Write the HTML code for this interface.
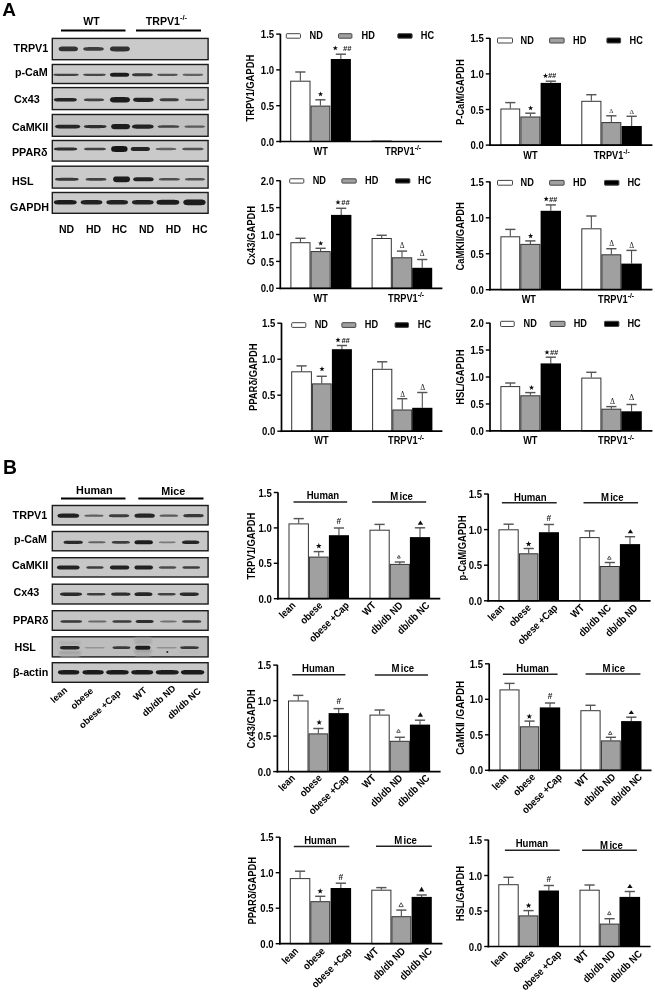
<!DOCTYPE html>
<html><head><meta charset="utf-8"><style>
html,body{margin:0;padding:0;background:#fff;}
svg{display:block;}
text{font-family:"Liberation Sans", sans-serif;}
</style></head><body>
<svg width="655" height="992" viewBox="0 0 655 992">
<defs><filter id="bl" x="-20%" y="-100%" width="140%" height="300%"><feGaussianBlur stdDeviation="0.75"/></filter><filter id="bl2" x="-20%" y="-100%" width="140%" height="300%"><feGaussianBlur stdDeviation="1.1"/></filter><filter id="gb" x="0" y="0" width="100%" height="100%" filterUnits="userSpaceOnUse"><feGaussianBlur stdDeviation="0.45"/></filter></defs>
<rect x="0" y="0" width="655" height="992" fill="#fff"/>
<g filter="url(#gb)">
<text x="2.20" y="15.70" font-size="19.0" text-anchor="start" font-weight="bold" fill="#000" >A</text>
<text x="83.30" y="24.50" font-size="10.5" text-anchor="start" font-weight="bold" fill="#000" >WT</text>
<text x="145.80" y="24.50" font-size="10.6" text-anchor="start" font-weight="bold" fill="#000" >TRPV1<tspan font-size="7.6" dy="-4.4">-/-</tspan></text>
<line x1="61.00" y1="30.50" x2="125.50" y2="30.50" stroke="#000" stroke-width="1.8"/>
<line x1="136.00" y1="30.50" x2="201.00" y2="30.50" stroke="#000" stroke-width="1.8"/>
<rect x="52.30" y="38.40" width="155.80" height="21.30" fill="#cacaca" stroke="#1a1a1a" stroke-width="1.4" rx="0" />
<text x="13.60" y="51.90" font-size="10.75" text-anchor="start" font-weight="bold" fill="#000" >TRPV1</text>
<path d="M58.50,48.90 L59.32,47.28 L60.13,46.88 L60.95,46.68 L61.77,46.57 L62.58,46.51 L63.40,46.49 L64.22,46.48 L65.03,46.47 L65.85,46.47 L66.67,46.47 L67.48,46.47 L68.30,46.47 L69.12,46.47 L69.93,46.47 L70.75,46.47 L71.57,46.47 L72.38,46.48 L73.20,46.49 L74.02,46.51 L74.83,46.57 L75.65,46.68 L76.47,46.88 L77.28,47.28 L78.10,48.90 L78.10,48.90 L77.28,50.52 L76.47,50.92 L75.65,51.12 L74.83,51.23 L74.02,51.29 L73.20,51.31 L72.38,51.32 L71.57,51.33 L70.75,51.33 L69.93,51.33 L69.12,51.33 L68.30,51.33 L67.48,51.33 L66.67,51.33 L65.85,51.33 L65.03,51.33 L64.22,51.32 L63.40,51.31 L62.58,51.29 L61.77,51.23 L60.95,51.12 L60.13,50.92 L59.32,50.52 L58.50,48.90Z" fill="rgb(51,51,51)" filter="url(#bl)"/>
<path d="M83.00,48.90 L83.88,47.70 L84.75,47.40 L85.62,47.25 L86.50,47.17 L87.38,47.13 L88.25,47.11 L89.12,47.10 L90.00,47.10 L90.88,47.10 L91.75,47.10 L92.62,47.10 L93.50,47.10 L94.38,47.10 L95.25,47.10 L96.12,47.10 L97.00,47.10 L97.88,47.10 L98.75,47.11 L99.62,47.13 L100.50,47.17 L101.38,47.25 L102.25,47.40 L103.12,47.70 L104.00,48.90 L104.00,48.90 L103.12,50.10 L102.25,50.40 L101.38,50.55 L100.50,50.63 L99.62,50.67 L98.75,50.69 L97.88,50.70 L97.00,50.70 L96.12,50.70 L95.25,50.70 L94.38,50.70 L93.50,50.70 L92.62,50.70 L91.75,50.70 L90.88,50.70 L90.00,50.70 L89.12,50.70 L88.25,50.69 L87.38,50.67 L86.50,50.63 L85.62,50.55 L84.75,50.40 L83.88,50.10 L83.00,48.90Z" fill="rgb(62,62,62)" filter="url(#bl)"/>
<path d="M109.80,48.90 L110.64,47.22 L111.48,46.80 L112.33,46.59 L113.17,46.48 L114.01,46.43 L114.85,46.40 L115.69,46.39 L116.53,46.38 L117.38,46.38 L118.22,46.38 L119.06,46.38 L119.90,46.38 L120.74,46.38 L121.58,46.38 L122.42,46.38 L123.27,46.38 L124.11,46.39 L124.95,46.40 L125.79,46.43 L126.63,46.48 L127.47,46.59 L128.32,46.80 L129.16,47.22 L130.00,48.90 L130.00,48.90 L129.16,50.58 L128.32,51.00 L127.47,51.21 L126.63,51.32 L125.79,51.37 L124.95,51.40 L124.11,51.41 L123.27,51.42 L122.42,51.42 L121.58,51.42 L120.74,51.42 L119.90,51.42 L119.06,51.42 L118.22,51.42 L117.38,51.42 L116.53,51.42 L115.69,51.41 L114.85,51.40 L114.01,51.37 L113.17,51.32 L112.33,51.21 L111.48,51.00 L110.64,50.58 L109.80,48.90Z" fill="rgb(51,51,51)" filter="url(#bl)"/>
<rect x="52.30" y="64.50" width="155.80" height="19.00" fill="#cacaca" stroke="#1a1a1a" stroke-width="1.4" rx="0" />
<text x="14.90" y="76.10" font-size="10.75" text-anchor="start" font-weight="bold" fill="#000" >p-CaM</text>
<path d="M53.00,74.80 L54.08,74.02 L55.17,73.83 L56.25,73.73 L57.33,73.68 L58.42,73.65 L59.50,73.64 L60.58,73.63 L61.67,73.63 L62.75,73.63 L63.83,73.63 L64.92,73.63 L66.00,73.63 L67.08,73.63 L68.17,73.63 L69.25,73.63 L70.33,73.63 L71.42,73.63 L72.50,73.64 L73.58,73.65 L74.67,73.68 L75.75,73.73 L76.83,73.83 L77.92,74.02 L79.00,74.80 L79.00,74.80 L77.92,75.58 L76.83,75.77 L75.75,75.87 L74.67,75.92 L73.58,75.95 L72.50,75.96 L71.42,75.97 L70.33,75.97 L69.25,75.97 L68.17,75.97 L67.08,75.97 L66.00,75.97 L64.92,75.97 L63.83,75.97 L62.75,75.97 L61.67,75.97 L60.58,75.97 L59.50,75.96 L58.42,75.95 L57.33,75.92 L56.25,75.87 L55.17,75.77 L54.08,75.58 L53.00,74.80Z" fill="rgb(66,66,66)" filter="url(#bl)"/>
<path d="M83.00,74.80 L83.96,74.02 L84.92,73.83 L85.88,73.73 L86.83,73.68 L87.79,73.65 L88.75,73.64 L89.71,73.63 L90.67,73.63 L91.62,73.63 L92.58,73.63 L93.54,73.63 L94.50,73.63 L95.46,73.63 L96.42,73.63 L97.38,73.63 L98.33,73.63 L99.29,73.63 L100.25,73.64 L101.21,73.65 L102.17,73.68 L103.12,73.73 L104.08,73.83 L105.04,74.02 L106.00,74.80 L106.00,74.80 L105.04,75.58 L104.08,75.77 L103.12,75.87 L102.17,75.92 L101.21,75.95 L100.25,75.96 L99.29,75.97 L98.33,75.97 L97.38,75.97 L96.42,75.97 L95.46,75.97 L94.50,75.97 L93.54,75.97 L92.58,75.97 L91.62,75.97 L90.67,75.97 L89.71,75.97 L88.75,75.96 L87.79,75.95 L86.83,75.92 L85.88,75.87 L84.92,75.77 L83.96,75.58 L83.00,74.80Z" fill="rgb(70,70,70)" filter="url(#bl)"/>
<path d="M109.80,74.80 L110.62,73.42 L111.43,73.08 L112.25,72.90 L113.07,72.81 L113.88,72.77 L114.70,72.74 L115.52,72.73 L116.33,72.73 L117.15,72.73 L117.97,72.73 L118.78,72.73 L119.60,72.73 L120.42,72.73 L121.23,72.73 L122.05,72.73 L122.87,72.73 L123.68,72.73 L124.50,72.74 L125.32,72.77 L126.13,72.81 L126.95,72.90 L127.77,73.08 L128.58,73.42 L129.40,74.80 L129.40,74.80 L128.58,76.18 L127.77,76.52 L126.95,76.70 L126.13,76.79 L125.32,76.83 L124.50,76.86 L123.68,76.87 L122.87,76.87 L122.05,76.87 L121.23,76.87 L120.42,76.87 L119.60,76.87 L118.78,76.87 L117.97,76.87 L117.15,76.87 L116.33,76.87 L115.52,76.87 L114.70,76.86 L113.88,76.83 L113.07,76.79 L112.25,76.70 L111.43,76.52 L110.62,76.18 L109.80,74.80Z" fill="rgb(31,31,31)" filter="url(#bl)"/>
<path d="M131.80,74.80 L132.68,73.78 L133.57,73.53 L134.45,73.40 L135.33,73.33 L136.22,73.30 L137.10,73.28 L137.98,73.27 L138.87,73.27 L139.75,73.27 L140.63,73.27 L141.52,73.27 L142.40,73.27 L143.28,73.27 L144.17,73.27 L145.05,73.27 L145.93,73.27 L146.82,73.27 L147.70,73.28 L148.58,73.30 L149.47,73.33 L150.35,73.40 L151.23,73.53 L152.12,73.78 L153.00,74.80 L153.00,74.80 L152.12,75.82 L151.23,76.07 L150.35,76.20 L149.47,76.27 L148.58,76.30 L147.70,76.32 L146.82,76.33 L145.93,76.33 L145.05,76.33 L144.17,76.33 L143.28,76.33 L142.40,76.33 L141.52,76.33 L140.63,76.33 L139.75,76.33 L138.87,76.33 L137.98,76.33 L137.10,76.32 L136.22,76.30 L135.33,76.27 L134.45,76.20 L133.57,76.07 L132.68,75.82 L131.80,74.80Z" fill="rgb(55,55,55)" filter="url(#bl)"/>
<path d="M157.00,74.80 L157.88,74.02 L158.75,73.83 L159.62,73.73 L160.50,73.68 L161.38,73.65 L162.25,73.64 L163.12,73.63 L164.00,73.63 L164.88,73.63 L165.75,73.63 L166.62,73.63 L167.50,73.63 L168.38,73.63 L169.25,73.63 L170.12,73.63 L171.00,73.63 L171.88,73.63 L172.75,73.64 L173.62,73.65 L174.50,73.68 L175.38,73.73 L176.25,73.83 L177.12,74.02 L178.00,74.80 L178.00,74.80 L177.12,75.58 L176.25,75.77 L175.38,75.87 L174.50,75.92 L173.62,75.95 L172.75,75.96 L171.88,75.97 L171.00,75.97 L170.12,75.97 L169.25,75.97 L168.38,75.97 L167.50,75.97 L166.62,75.97 L165.75,75.97 L164.88,75.97 L164.00,75.97 L163.12,75.97 L162.25,75.96 L161.38,75.95 L160.50,75.92 L159.62,75.87 L158.75,75.77 L157.88,75.58 L157.00,74.80Z" fill="rgb(82,82,82)" filter="url(#bl)"/>
<path d="M182.40,74.80 L183.28,74.02 L184.15,73.83 L185.03,73.73 L185.90,73.68 L186.78,73.65 L187.65,73.64 L188.53,73.63 L189.40,73.63 L190.28,73.63 L191.15,73.63 L192.03,73.63 L192.90,73.63 L193.78,73.63 L194.65,73.63 L195.53,73.63 L196.40,73.63 L197.28,73.63 L198.15,73.64 L199.03,73.65 L199.90,73.68 L200.78,73.73 L201.65,73.83 L202.53,74.02 L203.40,74.80 L203.40,74.80 L202.53,75.58 L201.65,75.77 L200.78,75.87 L199.90,75.92 L199.03,75.95 L198.15,75.96 L197.28,75.97 L196.40,75.97 L195.53,75.97 L194.65,75.97 L193.78,75.97 L192.90,75.97 L192.03,75.97 L191.15,75.97 L190.28,75.97 L189.40,75.97 L188.53,75.97 L187.65,75.96 L186.78,75.95 L185.90,75.92 L185.03,75.87 L184.15,75.77 L183.28,75.58 L182.40,74.80Z" fill="rgb(98,98,98)" filter="url(#bl)"/>
<rect x="52.30" y="87.60" width="155.80" height="22.00" fill="#cacaca" stroke="#1a1a1a" stroke-width="1.4" rx="0" />
<text x="14.10" y="103.40" font-size="10.75" text-anchor="start" font-weight="bold" fill="#000" >Cx43</text>
<path d="M53.70,99.80 L54.67,98.60 L55.64,98.30 L56.61,98.15 L57.58,98.07 L58.55,98.03 L59.53,98.01 L60.50,98.00 L61.47,98.00 L62.44,98.00 L63.41,98.00 L64.38,98.00 L65.35,98.00 L66.32,98.00 L67.29,98.00 L68.26,98.00 L69.23,98.00 L70.20,98.00 L71.17,98.01 L72.15,98.03 L73.12,98.07 L74.09,98.15 L75.06,98.30 L76.03,98.60 L77.00,99.80 L77.00,99.80 L76.03,101.00 L75.06,101.30 L74.09,101.45 L73.12,101.53 L72.15,101.57 L71.17,101.59 L70.20,101.60 L69.23,101.60 L68.26,101.60 L67.29,101.60 L66.32,101.60 L65.35,101.60 L64.38,101.60 L63.41,101.60 L62.44,101.60 L61.47,101.60 L60.50,101.60 L59.53,101.59 L58.55,101.57 L57.58,101.53 L56.61,101.45 L55.64,101.30 L54.67,101.00 L53.70,99.80Z" fill="rgb(39,39,39)" filter="url(#bl)"/>
<path d="M83.70,99.80 L84.55,98.90 L85.41,98.68 L86.26,98.56 L87.12,98.50 L87.97,98.47 L88.83,98.46 L89.68,98.45 L90.53,98.45 L91.39,98.45 L92.24,98.45 L93.10,98.45 L93.95,98.45 L94.80,98.45 L95.66,98.45 L96.51,98.45 L97.37,98.45 L98.22,98.45 L99.08,98.46 L99.93,98.47 L100.78,98.50 L101.64,98.56 L102.49,98.68 L103.35,98.90 L104.20,99.80 L104.20,99.80 L103.35,100.70 L102.49,100.92 L101.64,101.04 L100.78,101.10 L99.93,101.13 L99.08,101.14 L98.22,101.15 L97.37,101.15 L96.51,101.15 L95.66,101.15 L94.80,101.15 L93.95,101.15 L93.10,101.15 L92.24,101.15 L91.39,101.15 L90.53,101.15 L89.68,101.15 L88.83,101.14 L87.97,101.13 L87.12,101.10 L86.26,101.04 L85.41,100.92 L84.55,100.70 L83.70,99.80Z" fill="rgb(66,66,66)" filter="url(#bl)"/>
<path d="M109.80,99.80 L110.65,98.00 L111.49,97.55 L112.34,97.33 L113.18,97.21 L114.03,97.15 L114.88,97.12 L115.72,97.11 L116.57,97.10 L117.41,97.10 L118.26,97.10 L119.10,97.10 L119.95,97.10 L120.80,97.10 L121.64,97.10 L122.49,97.10 L123.33,97.10 L124.18,97.11 L125.02,97.12 L125.87,97.15 L126.72,97.21 L127.56,97.33 L128.41,97.55 L129.25,98.00 L130.10,99.80 L130.10,99.80 L129.25,101.60 L128.41,102.05 L127.56,102.27 L126.72,102.39 L125.87,102.45 L125.02,102.48 L124.18,102.49 L123.33,102.50 L122.49,102.50 L121.64,102.50 L120.80,102.50 L119.95,102.50 L119.10,102.50 L118.26,102.50 L117.41,102.50 L116.57,102.50 L115.72,102.49 L114.88,102.48 L114.03,102.45 L113.18,102.39 L112.34,102.27 L111.49,102.05 L110.65,101.60 L109.80,99.80Z" fill="rgb(27,27,27)" filter="url(#bl)"/>
<path d="M133.00,99.80 L133.87,98.36 L134.73,98.00 L135.60,97.82 L136.47,97.73 L137.33,97.68 L138.20,97.66 L139.07,97.65 L139.93,97.64 L140.80,97.64 L141.67,97.64 L142.53,97.64 L143.40,97.64 L144.27,97.64 L145.13,97.64 L146.00,97.64 L146.87,97.64 L147.73,97.65 L148.60,97.66 L149.47,97.68 L150.33,97.73 L151.20,97.82 L152.07,98.00 L152.93,98.36 L153.80,99.80 L153.80,99.80 L152.93,101.24 L152.07,101.60 L151.20,101.78 L150.33,101.87 L149.47,101.92 L148.60,101.94 L147.73,101.95 L146.87,101.96 L146.00,101.96 L145.13,101.96 L144.27,101.96 L143.40,101.96 L142.53,101.96 L141.67,101.96 L140.80,101.96 L139.93,101.96 L139.07,101.95 L138.20,101.94 L137.33,101.92 L136.47,101.87 L135.60,101.78 L134.73,101.60 L133.87,101.24 L133.00,99.80Z" fill="rgb(35,35,35)" filter="url(#bl)"/>
<path d="M159.40,99.80 L160.22,98.78 L161.03,98.53 L161.85,98.40 L162.67,98.33 L163.48,98.30 L164.30,98.28 L165.12,98.27 L165.93,98.27 L166.75,98.27 L167.57,98.27 L168.38,98.27 L169.20,98.27 L170.02,98.27 L170.83,98.27 L171.65,98.27 L172.47,98.27 L173.28,98.27 L174.10,98.28 L174.92,98.30 L175.73,98.33 L176.55,98.40 L177.37,98.53 L178.18,98.78 L179.00,99.80 L179.00,99.80 L178.18,100.82 L177.37,101.07 L176.55,101.20 L175.73,101.27 L174.92,101.30 L174.10,101.32 L173.28,101.33 L172.47,101.33 L171.65,101.33 L170.83,101.33 L170.02,101.33 L169.20,101.33 L168.38,101.33 L167.57,101.33 L166.75,101.33 L165.93,101.33 L165.12,101.33 L164.30,101.32 L163.48,101.30 L162.67,101.27 L161.85,101.20 L161.03,101.07 L160.22,100.82 L159.40,99.80Z" fill="rgb(62,62,62)" filter="url(#bl)"/>
<path d="M184.80,99.80 L185.64,99.02 L186.48,98.83 L187.33,98.73 L188.17,98.68 L189.01,98.65 L189.85,98.64 L190.69,98.63 L191.53,98.63 L192.38,98.63 L193.22,98.63 L194.06,98.63 L194.90,98.63 L195.74,98.63 L196.58,98.63 L197.43,98.63 L198.27,98.63 L199.11,98.63 L199.95,98.64 L200.79,98.65 L201.63,98.68 L202.47,98.73 L203.32,98.83 L204.16,99.02 L205.00,99.80 L205.00,99.80 L204.16,100.58 L203.32,100.77 L202.47,100.87 L201.63,100.92 L200.79,100.95 L199.95,100.96 L199.11,100.97 L198.27,100.97 L197.43,100.97 L196.58,100.97 L195.74,100.97 L194.90,100.97 L194.06,100.97 L193.22,100.97 L192.38,100.97 L191.53,100.97 L190.69,100.97 L189.85,100.96 L189.01,100.95 L188.17,100.92 L187.33,100.87 L186.48,100.77 L185.64,100.58 L184.80,99.80Z" fill="rgb(98,98,98)" filter="url(#bl)"/>
<rect x="52.30" y="114.50" width="155.80" height="21.80" fill="#c1c1c1" stroke="#1a1a1a" stroke-width="1.4" rx="0" />
<text x="11.90" y="131.30" font-size="10.75" text-anchor="start" font-weight="bold" fill="#000" >CaMKII</text>
<path d="M54.90,126.60 L55.97,125.34 L57.03,125.03 L58.10,124.87 L59.17,124.79 L60.23,124.74 L61.30,124.72 L62.37,124.71 L63.43,124.71 L64.50,124.71 L65.57,124.71 L66.63,124.71 L67.70,124.71 L68.77,124.71 L69.83,124.71 L70.90,124.71 L71.97,124.71 L73.03,124.71 L74.10,124.72 L75.17,124.74 L76.23,124.79 L77.30,124.87 L78.37,125.03 L79.43,125.34 L80.50,126.60 L80.50,126.60 L79.43,127.86 L78.37,128.17 L77.30,128.33 L76.23,128.41 L75.17,128.46 L74.10,128.48 L73.03,128.49 L71.97,128.49 L70.90,128.49 L69.83,128.49 L68.77,128.49 L67.70,128.49 L66.63,128.49 L65.57,128.49 L64.50,128.49 L63.43,128.49 L62.37,128.49 L61.30,128.48 L60.23,128.46 L59.17,128.41 L58.10,128.33 L57.03,128.17 L55.97,127.86 L54.90,126.60Z" fill="rgb(39,39,39)" filter="url(#bl)"/>
<path d="M83.70,126.60 L84.66,125.58 L85.62,125.33 L86.58,125.20 L87.53,125.13 L88.49,125.10 L89.45,125.08 L90.41,125.07 L91.37,125.07 L92.33,125.07 L93.28,125.07 L94.24,125.07 L95.20,125.07 L96.16,125.07 L97.12,125.07 L98.08,125.07 L99.03,125.07 L99.99,125.07 L100.95,125.08 L101.91,125.10 L102.87,125.13 L103.83,125.20 L104.78,125.33 L105.74,125.58 L106.70,126.60 L106.70,126.60 L105.74,127.62 L104.78,127.87 L103.83,128.00 L102.87,128.07 L101.91,128.10 L100.95,128.12 L99.99,128.13 L99.03,128.13 L98.08,128.13 L97.12,128.13 L96.16,128.13 L95.20,128.13 L94.24,128.13 L93.28,128.13 L92.33,128.13 L91.37,128.13 L90.41,128.13 L89.45,128.12 L88.49,128.10 L87.53,128.07 L86.58,128.00 L85.62,127.87 L84.66,127.62 L83.70,126.60Z" fill="rgb(47,47,47)" filter="url(#bl)"/>
<path d="M111.00,126.60 L111.80,124.80 L112.59,124.35 L113.39,124.13 L114.18,124.01 L114.98,123.95 L115.78,123.92 L116.57,123.91 L117.37,123.90 L118.16,123.90 L118.96,123.90 L119.75,123.90 L120.55,123.90 L121.35,123.90 L122.14,123.90 L122.94,123.90 L123.73,123.90 L124.53,123.91 L125.32,123.92 L126.12,123.95 L126.92,124.01 L127.71,124.13 L128.51,124.35 L129.30,124.80 L130.10,126.60 L130.10,126.60 L129.30,128.40 L128.51,128.85 L127.71,129.07 L126.92,129.19 L126.12,129.25 L125.32,129.28 L124.53,129.29 L123.73,129.30 L122.94,129.30 L122.14,129.30 L121.35,129.30 L120.55,129.30 L119.75,129.30 L118.96,129.30 L118.16,129.30 L117.37,129.30 L116.57,129.29 L115.78,129.28 L114.98,129.25 L114.18,129.19 L113.39,129.07 L112.59,128.85 L111.80,128.40 L111.00,126.60Z" fill="rgb(27,27,27)" filter="url(#bl)"/>
<path d="M131.80,126.60 L132.72,125.22 L133.63,124.88 L134.55,124.70 L135.47,124.61 L136.38,124.57 L137.30,124.54 L138.22,124.53 L139.13,124.53 L140.05,124.53 L140.97,124.53 L141.88,124.53 L142.80,124.53 L143.72,124.53 L144.63,124.53 L145.55,124.53 L146.47,124.53 L147.38,124.53 L148.30,124.54 L149.22,124.57 L150.13,124.61 L151.05,124.70 L151.97,124.88 L152.88,125.22 L153.80,126.60 L153.80,126.60 L152.88,127.98 L151.97,128.32 L151.05,128.50 L150.13,128.59 L149.22,128.63 L148.30,128.66 L147.38,128.67 L146.47,128.67 L145.55,128.67 L144.63,128.67 L143.72,128.67 L142.80,128.67 L141.88,128.67 L140.97,128.67 L140.05,128.67 L139.13,128.67 L138.22,128.67 L137.30,128.66 L136.38,128.63 L135.47,128.59 L134.55,128.50 L133.63,128.32 L132.72,127.98 L131.80,126.60Z" fill="rgb(35,35,35)" filter="url(#bl)"/>
<path d="M157.50,126.60 L158.42,125.76 L159.33,125.55 L160.25,125.45 L161.17,125.39 L162.08,125.36 L163.00,125.35 L163.92,125.34 L164.83,125.34 L165.75,125.34 L166.67,125.34 L167.58,125.34 L168.50,125.34 L169.42,125.34 L170.33,125.34 L171.25,125.34 L172.17,125.34 L173.08,125.34 L174.00,125.35 L174.92,125.36 L175.83,125.39 L176.75,125.45 L177.67,125.55 L178.58,125.76 L179.50,126.60 L179.50,126.60 L178.58,127.44 L177.67,127.65 L176.75,127.75 L175.83,127.81 L174.92,127.84 L174.00,127.85 L173.08,127.86 L172.17,127.86 L171.25,127.86 L170.33,127.86 L169.42,127.86 L168.50,127.86 L167.58,127.86 L166.67,127.86 L165.75,127.86 L164.83,127.86 L163.92,127.86 L163.00,127.85 L162.08,127.84 L161.17,127.81 L160.25,127.75 L159.33,127.65 L158.42,127.44 L157.50,126.60Z" fill="rgb(66,66,66)" filter="url(#bl)"/>
<path d="M184.30,126.60 L185.17,125.82 L186.03,125.63 L186.90,125.53 L187.77,125.48 L188.63,125.45 L189.50,125.44 L190.37,125.43 L191.23,125.43 L192.10,125.43 L192.97,125.43 L193.83,125.43 L194.70,125.43 L195.57,125.43 L196.43,125.43 L197.30,125.43 L198.17,125.43 L199.03,125.43 L199.90,125.44 L200.77,125.45 L201.63,125.48 L202.50,125.53 L203.37,125.63 L204.23,125.82 L205.10,126.60 L205.10,126.60 L204.23,127.38 L203.37,127.57 L202.50,127.67 L201.63,127.72 L200.77,127.75 L199.90,127.76 L199.03,127.77 L198.17,127.77 L197.30,127.77 L196.43,127.77 L195.57,127.77 L194.70,127.77 L193.83,127.77 L192.97,127.77 L192.10,127.77 L191.23,127.77 L190.37,127.77 L189.50,127.76 L188.63,127.75 L187.77,127.72 L186.90,127.67 L186.03,127.57 L185.17,127.38 L184.30,126.60Z" fill="rgb(90,90,90)" filter="url(#bl)"/>
<rect x="52.30" y="140.50" width="155.80" height="20.60" fill="#cacaca" stroke="#1a1a1a" stroke-width="1.4" rx="0" />
<text x="11.90" y="156.20" font-size="10.75" text-anchor="start" font-weight="bold" fill="#000" >PPAR&#948;</text>
<path d="M53.70,149.00 L54.69,148.04 L55.68,147.80 L56.66,147.68 L57.65,147.62 L58.64,147.59 L59.62,147.57 L60.61,147.56 L61.60,147.56 L62.59,147.56 L63.58,147.56 L64.56,147.56 L65.55,147.56 L66.54,147.56 L67.53,147.56 L68.51,147.56 L69.50,147.56 L70.49,147.56 L71.48,147.57 L72.46,147.59 L73.45,147.62 L74.44,147.68 L75.43,147.80 L76.41,148.04 L77.40,149.00 L77.40,149.00 L76.41,149.96 L75.43,150.20 L74.44,150.32 L73.45,150.38 L72.46,150.41 L71.48,150.43 L70.49,150.44 L69.50,150.44 L68.51,150.44 L67.53,150.44 L66.54,150.44 L65.55,150.44 L64.56,150.44 L63.58,150.44 L62.59,150.44 L61.60,150.44 L60.61,150.44 L59.62,150.43 L58.64,150.41 L57.65,150.38 L56.66,150.32 L55.68,150.20 L54.69,149.96 L53.70,149.00Z" fill="rgb(47,47,47)" filter="url(#bl)"/>
<path d="M83.70,149.00 L84.64,148.16 L85.58,147.95 L86.51,147.85 L87.45,147.79 L88.39,147.76 L89.33,147.75 L90.26,147.74 L91.20,147.74 L92.14,147.74 L93.08,147.74 L94.01,147.74 L94.95,147.74 L95.89,147.74 L96.83,147.74 L97.76,147.74 L98.70,147.74 L99.64,147.74 L100.58,147.75 L101.51,147.76 L102.45,147.79 L103.39,147.85 L104.33,147.95 L105.26,148.16 L106.20,149.00 L106.20,149.00 L105.26,149.84 L104.33,150.05 L103.39,150.15 L102.45,150.21 L101.51,150.24 L100.58,150.25 L99.64,150.26 L98.70,150.26 L97.76,150.26 L96.83,150.26 L95.89,150.26 L94.95,150.26 L94.01,150.26 L93.08,150.26 L92.14,150.26 L91.20,150.26 L90.26,150.26 L89.33,150.25 L88.39,150.24 L87.45,150.21 L86.51,150.15 L85.58,150.05 L84.64,149.84 L83.70,149.00Z" fill="rgb(66,66,66)" filter="url(#bl)"/>
<path d="M111.00,149.00 L111.70,147.05 L112.39,146.57 L113.09,146.32 L113.78,146.19 L114.48,146.13 L115.17,146.10 L115.87,146.08 L116.57,146.08 L117.26,146.08 L117.96,146.08 L118.65,146.08 L119.35,146.07 L120.05,146.08 L120.74,146.08 L121.44,146.08 L122.13,146.08 L122.83,146.08 L123.53,146.10 L124.22,146.13 L124.92,146.19 L125.61,146.32 L126.31,146.57 L127.00,147.05 L127.70,149.00 L127.70,149.00 L127.00,150.95 L126.31,151.43 L125.61,151.68 L124.92,151.81 L124.22,151.87 L123.53,151.90 L122.83,151.92 L122.13,151.92 L121.44,151.92 L120.74,151.92 L120.05,151.92 L119.35,151.93 L118.65,151.92 L117.96,151.92 L117.26,151.92 L116.57,151.92 L115.87,151.92 L115.17,151.90 L114.48,151.87 L113.78,151.81 L113.09,151.68 L112.39,151.43 L111.70,150.95 L111.00,149.00Z" fill="rgb(23,23,23)" filter="url(#bl)"/>
<path d="M130.60,149.00 L131.41,147.62 L132.22,147.28 L133.04,147.10 L133.85,147.01 L134.66,146.97 L135.47,146.94 L136.29,146.93 L137.10,146.93 L137.91,146.93 L138.72,146.93 L139.54,146.93 L140.35,146.93 L141.16,146.93 L141.97,146.93 L142.79,146.93 L143.60,146.93 L144.41,146.93 L145.22,146.94 L146.04,146.97 L146.85,147.01 L147.66,147.10 L148.47,147.28 L149.29,147.62 L150.10,149.00 L150.10,149.00 L149.29,150.38 L148.47,150.72 L147.66,150.90 L146.85,150.99 L146.04,151.03 L145.22,151.06 L144.41,151.07 L143.60,151.07 L142.79,151.07 L141.97,151.07 L141.16,151.07 L140.35,151.07 L139.54,151.07 L138.72,151.07 L137.91,151.07 L137.10,151.07 L136.29,151.07 L135.47,151.06 L134.66,151.03 L133.85,150.99 L133.04,150.90 L132.22,150.72 L131.41,150.38 L130.60,149.00Z" fill="rgb(39,39,39)" filter="url(#bl)"/>
<path d="M155.50,149.00 L156.38,148.22 L157.25,148.03 L158.12,147.93 L159.00,147.88 L159.88,147.85 L160.75,147.84 L161.62,147.83 L162.50,147.83 L163.38,147.83 L164.25,147.83 L165.12,147.83 L166.00,147.83 L166.88,147.83 L167.75,147.83 L168.62,147.83 L169.50,147.83 L170.38,147.83 L171.25,147.84 L172.12,147.85 L173.00,147.88 L173.88,147.93 L174.75,148.03 L175.62,148.22 L176.50,149.00 L176.50,149.00 L175.62,149.78 L174.75,149.97 L173.88,150.07 L173.00,150.12 L172.12,150.15 L171.25,150.16 L170.38,150.17 L169.50,150.17 L168.62,150.17 L167.75,150.17 L166.88,150.17 L166.00,150.17 L165.12,150.17 L164.25,150.17 L163.38,150.17 L162.50,150.17 L161.62,150.17 L160.75,150.16 L159.88,150.15 L159.00,150.12 L158.12,150.07 L157.25,149.97 L156.38,149.78 L155.50,149.00Z" fill="rgb(98,98,98)" filter="url(#bl)"/>
<path d="M181.90,149.00 L182.82,148.16 L183.73,147.95 L184.65,147.85 L185.57,147.79 L186.48,147.76 L187.40,147.75 L188.32,147.74 L189.23,147.74 L190.15,147.74 L191.07,147.74 L191.98,147.74 L192.90,147.74 L193.82,147.74 L194.73,147.74 L195.65,147.74 L196.57,147.74 L197.48,147.74 L198.40,147.75 L199.32,147.76 L200.23,147.79 L201.15,147.85 L202.07,147.95 L202.98,148.16 L203.90,149.00 L203.90,149.00 L202.98,149.84 L202.07,150.05 L201.15,150.15 L200.23,150.21 L199.32,150.24 L198.40,150.25 L197.48,150.26 L196.57,150.26 L195.65,150.26 L194.73,150.26 L193.82,150.26 L192.90,150.26 L191.98,150.26 L191.07,150.26 L190.15,150.26 L189.23,150.26 L188.32,150.26 L187.40,150.25 L186.48,150.24 L185.57,150.21 L184.65,150.15 L183.73,150.05 L182.82,149.84 L181.90,149.00Z" fill="rgb(82,82,82)" filter="url(#bl)"/>
<rect x="52.30" y="166.20" width="155.80" height="21.90" fill="#cacaca" stroke="#1a1a1a" stroke-width="1.4" rx="0" />
<text x="12.10" y="184.60" font-size="10.75" text-anchor="start" font-weight="bold" fill="#000" >HSL</text>
<path d="M54.90,179.30 L55.90,178.34 L56.89,178.10 L57.89,177.98 L58.88,177.92 L59.88,177.89 L60.88,177.87 L61.87,177.86 L62.87,177.86 L63.86,177.86 L64.86,177.86 L65.85,177.86 L66.85,177.86 L67.85,177.86 L68.84,177.86 L69.84,177.86 L70.83,177.86 L71.83,177.86 L72.82,177.87 L73.82,177.89 L74.82,177.92 L75.81,177.98 L76.81,178.10 L77.80,178.34 L78.80,179.30 L78.80,179.30 L77.80,180.26 L76.81,180.50 L75.81,180.62 L74.82,180.68 L73.82,180.71 L72.82,180.73 L71.83,180.74 L70.83,180.74 L69.84,180.74 L68.84,180.74 L67.85,180.74 L66.85,180.74 L65.85,180.74 L64.86,180.74 L63.86,180.74 L62.87,180.74 L61.87,180.74 L60.88,180.73 L59.88,180.71 L58.88,180.68 L57.89,180.62 L56.89,180.50 L55.90,180.26 L54.90,179.30Z" fill="rgb(55,55,55)" filter="url(#bl)"/>
<path d="M85.40,179.30 L86.29,178.40 L87.18,178.18 L88.06,178.06 L88.95,178.00 L89.84,177.97 L90.73,177.96 L91.61,177.95 L92.50,177.95 L93.39,177.95 L94.28,177.95 L95.16,177.95 L96.05,177.95 L96.94,177.95 L97.83,177.95 L98.71,177.95 L99.60,177.95 L100.49,177.95 L101.38,177.96 L102.26,177.97 L103.15,178.00 L104.04,178.06 L104.92,178.18 L105.81,178.40 L106.70,179.30 L106.70,179.30 L105.81,180.20 L104.92,180.42 L104.04,180.54 L103.15,180.60 L102.26,180.63 L101.38,180.64 L100.49,180.65 L99.60,180.65 L98.71,180.65 L97.83,180.65 L96.94,180.65 L96.05,180.65 L95.16,180.65 L94.28,180.65 L93.39,180.65 L92.50,180.65 L91.61,180.65 L90.73,180.64 L89.84,180.63 L88.95,180.60 L88.06,180.54 L87.18,180.42 L86.29,180.20 L85.40,179.30Z" fill="rgb(66,66,66)" filter="url(#bl)"/>
<path d="M113.00,179.30 L113.71,177.35 L114.42,176.87 L115.14,176.62 L115.85,176.49 L116.56,176.43 L117.28,176.40 L117.99,176.38 L118.70,176.38 L119.41,176.38 L120.12,176.38 L120.84,176.38 L121.55,176.38 L122.26,176.38 L122.97,176.38 L123.69,176.38 L124.40,176.38 L125.11,176.38 L125.82,176.40 L126.54,176.43 L127.25,176.49 L127.96,176.62 L128.67,176.87 L129.39,177.35 L130.10,179.30 L130.10,179.30 L129.39,181.25 L128.67,181.73 L127.96,181.98 L127.25,182.11 L126.54,182.17 L125.82,182.20 L125.11,182.22 L124.40,182.22 L123.69,182.22 L122.97,182.22 L122.26,182.22 L121.55,182.23 L120.84,182.22 L120.12,182.22 L119.41,182.22 L118.70,182.22 L117.99,182.22 L117.28,182.20 L116.56,182.17 L115.85,182.11 L115.14,181.98 L114.42,181.73 L113.71,181.25 L113.00,179.30Z" fill="rgb(27,27,27)" filter="url(#bl)"/>
<path d="M133.00,179.30 L133.87,177.92 L134.73,177.58 L135.60,177.40 L136.47,177.31 L137.33,177.27 L138.20,177.24 L139.07,177.23 L139.93,177.23 L140.80,177.23 L141.67,177.23 L142.53,177.23 L143.40,177.23 L144.27,177.23 L145.13,177.23 L146.00,177.23 L146.87,177.23 L147.73,177.23 L148.60,177.24 L149.47,177.27 L150.33,177.31 L151.20,177.40 L152.07,177.58 L152.93,177.92 L153.80,179.30 L153.80,179.30 L152.93,180.68 L152.07,181.02 L151.20,181.20 L150.33,181.29 L149.47,181.33 L148.60,181.36 L147.73,181.37 L146.87,181.37 L146.00,181.37 L145.13,181.37 L144.27,181.37 L143.40,181.37 L142.53,181.37 L141.67,181.37 L140.80,181.37 L139.93,181.37 L139.07,181.37 L138.20,181.36 L137.33,181.33 L136.47,181.29 L135.60,181.20 L134.73,181.02 L133.87,180.68 L133.00,179.30Z" fill="rgb(35,35,35)" filter="url(#bl)"/>
<path d="M158.70,179.30 L159.59,178.46 L160.47,178.25 L161.36,178.15 L162.25,178.09 L163.14,178.06 L164.02,178.05 L164.91,178.04 L165.80,178.04 L166.69,178.04 L167.57,178.04 L168.46,178.04 L169.35,178.04 L170.24,178.04 L171.12,178.04 L172.01,178.04 L172.90,178.04 L173.79,178.04 L174.68,178.05 L175.56,178.06 L176.45,178.09 L177.34,178.15 L178.22,178.25 L179.11,178.46 L180.00,179.30 L180.00,179.30 L179.11,180.14 L178.22,180.35 L177.34,180.45 L176.45,180.51 L175.56,180.54 L174.68,180.55 L173.79,180.56 L172.90,180.56 L172.01,180.56 L171.12,180.56 L170.24,180.56 L169.35,180.56 L168.46,180.56 L167.57,180.56 L166.69,180.56 L165.80,180.56 L164.91,180.56 L164.02,180.55 L163.14,180.54 L162.25,180.51 L161.36,180.45 L160.47,180.35 L159.59,180.14 L158.70,179.30Z" fill="rgb(78,78,78)" filter="url(#bl)"/>
<path d="M184.80,179.30 L185.65,178.46 L186.49,178.25 L187.34,178.15 L188.18,178.09 L189.03,178.06 L189.88,178.05 L190.72,178.04 L191.57,178.04 L192.41,178.04 L193.26,178.04 L194.10,178.04 L194.95,178.04 L195.80,178.04 L196.64,178.04 L197.49,178.04 L198.33,178.04 L199.18,178.04 L200.03,178.05 L200.87,178.06 L201.72,178.09 L202.56,178.15 L203.41,178.25 L204.25,178.46 L205.10,179.30 L205.10,179.30 L204.25,180.14 L203.41,180.35 L202.56,180.45 L201.72,180.51 L200.87,180.54 L200.03,180.55 L199.18,180.56 L198.33,180.56 L197.49,180.56 L196.64,180.56 L195.80,180.56 L194.95,180.56 L194.10,180.56 L193.26,180.56 L192.41,180.56 L191.57,180.56 L190.72,180.56 L189.88,180.55 L189.03,180.54 L188.18,180.51 L187.34,180.45 L186.49,180.35 L185.65,180.14 L184.80,179.30Z" fill="rgb(82,82,82)" filter="url(#bl)"/>
<rect x="52.30" y="192.50" width="155.80" height="20.80" fill="#cacaca" stroke="#1a1a1a" stroke-width="1.4" rx="0" />
<text x="10.10" y="210.80" font-size="10.75" text-anchor="start" font-weight="bold" fill="#000" >GAPDH</text>
<path d="M53.70,202.30 L54.67,200.80 L55.63,200.43 L56.60,200.24 L57.57,200.14 L58.53,200.09 L59.50,200.07 L60.47,200.06 L61.43,200.05 L62.40,200.05 L63.37,200.05 L64.33,200.05 L65.30,200.05 L66.27,200.05 L67.23,200.05 L68.20,200.05 L69.17,200.05 L70.13,200.06 L71.10,200.07 L72.07,200.09 L73.03,200.14 L74.00,200.24 L74.97,200.43 L75.93,200.80 L76.90,202.30 L76.90,202.30 L75.93,203.80 L74.97,204.17 L74.00,204.36 L73.03,204.46 L72.07,204.51 L71.10,204.53 L70.13,204.54 L69.17,204.55 L68.20,204.55 L67.23,204.55 L66.27,204.55 L65.30,204.55 L64.33,204.55 L63.37,204.55 L62.40,204.55 L61.43,204.55 L60.47,204.54 L59.50,204.53 L58.53,204.51 L57.57,204.46 L56.60,204.36 L55.63,204.17 L54.67,203.80 L53.70,202.30Z" fill="rgb(31,31,31)" filter="url(#bl)"/>
<path d="M80.50,202.30 L81.42,200.80 L82.33,200.43 L83.25,200.24 L84.17,200.14 L85.08,200.09 L86.00,200.07 L86.92,200.06 L87.83,200.05 L88.75,200.05 L89.67,200.05 L90.58,200.05 L91.50,200.05 L92.42,200.05 L93.33,200.05 L94.25,200.05 L95.17,200.05 L96.08,200.06 L97.00,200.07 L97.92,200.09 L98.83,200.14 L99.75,200.24 L100.67,200.43 L101.58,200.80 L102.50,202.30 L102.50,202.30 L101.58,203.80 L100.67,204.17 L99.75,204.36 L98.83,204.46 L97.92,204.51 L97.00,204.53 L96.08,204.54 L95.17,204.55 L94.25,204.55 L93.33,204.55 L92.42,204.55 L91.50,204.55 L90.58,204.55 L89.67,204.55 L88.75,204.55 L87.83,204.55 L86.92,204.54 L86.00,204.53 L85.08,204.51 L84.17,204.46 L83.25,204.36 L82.33,204.17 L81.42,203.80 L80.50,202.30Z" fill="rgb(35,35,35)" filter="url(#bl)"/>
<path d="M106.20,202.30 L107.12,200.80 L108.03,200.43 L108.95,200.24 L109.87,200.14 L110.78,200.09 L111.70,200.07 L112.62,200.06 L113.53,200.05 L114.45,200.05 L115.37,200.05 L116.28,200.05 L117.20,200.05 L118.12,200.05 L119.03,200.05 L119.95,200.05 L120.87,200.05 L121.78,200.06 L122.70,200.07 L123.62,200.09 L124.53,200.14 L125.45,200.24 L126.37,200.43 L127.28,200.80 L128.20,202.30 L128.20,202.30 L127.28,203.80 L126.37,204.17 L125.45,204.36 L124.53,204.46 L123.62,204.51 L122.70,204.53 L121.78,204.54 L120.87,204.55 L119.95,204.55 L119.03,204.55 L118.12,204.55 L117.20,204.55 L116.28,204.55 L115.37,204.55 L114.45,204.55 L113.53,204.55 L112.62,204.54 L111.70,204.53 L110.78,204.51 L109.87,204.46 L108.95,204.36 L108.03,204.17 L107.12,203.80 L106.20,202.30Z" fill="rgb(35,35,35)" filter="url(#bl)"/>
<path d="M131.80,202.30 L132.72,200.80 L133.63,200.43 L134.55,200.24 L135.47,200.14 L136.38,200.09 L137.30,200.07 L138.22,200.06 L139.13,200.05 L140.05,200.05 L140.97,200.05 L141.88,200.05 L142.80,200.05 L143.72,200.05 L144.63,200.05 L145.55,200.05 L146.47,200.05 L147.38,200.06 L148.30,200.07 L149.22,200.09 L150.13,200.14 L151.05,200.24 L151.97,200.43 L152.88,200.80 L153.80,202.30 L153.80,202.30 L152.88,203.80 L151.97,204.17 L151.05,204.36 L150.13,204.46 L149.22,204.51 L148.30,204.53 L147.38,204.54 L146.47,204.55 L145.55,204.55 L144.63,204.55 L143.72,204.55 L142.80,204.55 L141.88,204.55 L140.97,204.55 L140.05,204.55 L139.13,204.55 L138.22,204.54 L137.30,204.53 L136.38,204.51 L135.47,204.46 L134.55,204.36 L133.63,204.17 L132.72,203.80 L131.80,202.30Z" fill="rgb(35,35,35)" filter="url(#bl)"/>
<path d="M156.30,202.30 L157.27,200.62 L158.23,200.20 L159.20,199.99 L160.17,199.88 L161.13,199.83 L162.10,199.80 L163.07,199.79 L164.03,199.78 L165.00,199.78 L165.97,199.78 L166.93,199.78 L167.90,199.78 L168.87,199.78 L169.83,199.78 L170.80,199.78 L171.77,199.78 L172.73,199.79 L173.70,199.80 L174.67,199.83 L175.63,199.88 L176.60,199.99 L177.57,200.20 L178.53,200.62 L179.50,202.30 L179.50,202.30 L178.53,203.98 L177.57,204.40 L176.60,204.61 L175.63,204.72 L174.67,204.77 L173.70,204.80 L172.73,204.81 L171.77,204.82 L170.80,204.82 L169.83,204.82 L168.87,204.82 L167.90,204.82 L166.93,204.82 L165.97,204.82 L165.00,204.82 L164.03,204.82 L163.07,204.81 L162.10,204.80 L161.13,204.77 L160.17,204.72 L159.20,204.61 L158.23,204.40 L157.27,203.98 L156.30,202.30Z" fill="rgb(31,31,31)" filter="url(#bl)"/>
<path d="M183.10,202.30 L184.05,200.38 L184.99,199.90 L185.94,199.66 L186.88,199.54 L187.83,199.47 L188.78,199.44 L189.72,199.43 L190.67,199.42 L191.61,199.42 L192.56,199.42 L193.50,199.42 L194.45,199.42 L195.40,199.42 L196.34,199.42 L197.29,199.42 L198.23,199.42 L199.18,199.43 L200.12,199.44 L201.07,199.47 L202.02,199.54 L202.96,199.66 L203.91,199.90 L204.85,200.38 L205.80,202.30 L205.80,202.30 L204.85,204.22 L203.91,204.70 L202.96,204.94 L202.02,205.06 L201.07,205.13 L200.12,205.16 L199.18,205.17 L198.23,205.18 L197.29,205.18 L196.34,205.18 L195.40,205.18 L194.45,205.18 L193.50,205.18 L192.56,205.18 L191.61,205.18 L190.67,205.18 L189.72,205.17 L188.78,205.16 L187.83,205.13 L186.88,205.06 L185.94,204.94 L184.99,204.70 L184.05,204.22 L183.10,202.30Z" fill="rgb(27,27,27)" filter="url(#bl)"/>
<text x="66.60" y="233.00" font-size="10.5" text-anchor="middle" font-weight="bold" fill="#000" >ND</text>
<text x="93.50" y="233.00" font-size="10.5" text-anchor="middle" font-weight="bold" fill="#000" >HD</text>
<text x="119.60" y="233.00" font-size="10.5" text-anchor="middle" font-weight="bold" fill="#000" >HC</text>
<text x="146.50" y="233.00" font-size="10.5" text-anchor="middle" font-weight="bold" fill="#000" >ND</text>
<text x="173.40" y="233.00" font-size="10.5" text-anchor="middle" font-weight="bold" fill="#000" >HD</text>
<text x="199.90" y="233.00" font-size="10.5" text-anchor="middle" font-weight="bold" fill="#000" >HC</text>
<text x="3.00" y="473.70" font-size="19.3" text-anchor="start" font-weight="bold" fill="#000" >B</text>
<text x="94.40" y="494.00" font-size="10.8" text-anchor="middle" font-weight="bold" fill="#000" >Human</text>
<text x="173.20" y="494.80" font-size="10.8" text-anchor="middle" font-weight="bold" fill="#000" >Mice</text>
<line x1="61.00" y1="498.50" x2="125.50" y2="498.50" stroke="#000" stroke-width="1.8"/>
<line x1="138.30" y1="498.50" x2="203.50" y2="498.50" stroke="#000" stroke-width="1.8"/>
<rect x="52.30" y="505.50" width="155.80" height="19.40" fill="#c7c7c7" stroke="#1a1a1a" stroke-width="1.4" rx="0" />
<text x="12.60" y="519.20" font-size="10.75" text-anchor="start" font-weight="bold" fill="#000" >TRPV1</text>
<path d="M57.30,515.70 L58.22,514.26 L59.13,513.90 L60.05,513.72 L60.97,513.63 L61.88,513.58 L62.80,513.56 L63.72,513.55 L64.63,513.54 L65.55,513.54 L66.47,513.54 L67.38,513.54 L68.30,513.54 L69.22,513.54 L70.13,513.54 L71.05,513.54 L71.97,513.54 L72.88,513.55 L73.80,513.56 L74.72,513.58 L75.63,513.63 L76.55,513.72 L77.47,513.90 L78.38,514.26 L79.30,515.70 L79.30,515.70 L78.38,517.14 L77.47,517.50 L76.55,517.68 L75.63,517.77 L74.72,517.82 L73.80,517.84 L72.88,517.85 L71.97,517.86 L71.05,517.86 L70.13,517.86 L69.22,517.86 L68.30,517.86 L67.38,517.86 L66.47,517.86 L65.55,517.86 L64.63,517.86 L63.72,517.85 L62.80,517.84 L61.88,517.82 L60.97,517.77 L60.05,517.68 L59.13,517.50 L58.22,517.14 L57.30,515.70Z" fill="rgb(35,35,35)" filter="url(#bl)"/>
<path d="M84.20,515.70 L85.01,514.98 L85.83,514.80 L86.64,514.71 L87.45,514.66 L88.26,514.64 L89.08,514.63 L89.89,514.62 L90.70,514.62 L91.51,514.62 L92.33,514.62 L93.14,514.62 L93.95,514.62 L94.76,514.62 L95.58,514.62 L96.39,514.62 L97.20,514.62 L98.01,514.62 L98.83,514.63 L99.64,514.64 L100.45,514.66 L101.26,514.71 L102.08,514.80 L102.89,514.98 L103.70,515.70 L103.70,515.70 L102.89,516.42 L102.08,516.60 L101.26,516.69 L100.45,516.74 L99.64,516.76 L98.83,516.77 L98.01,516.78 L97.20,516.78 L96.39,516.78 L95.58,516.78 L94.76,516.78 L93.95,516.78 L93.14,516.78 L92.33,516.78 L91.51,516.78 L90.70,516.78 L89.89,516.78 L89.08,516.77 L88.26,516.76 L87.45,516.74 L86.64,516.69 L85.83,516.60 L85.01,516.42 L84.20,515.70Z" fill="rgb(94,94,94)" filter="url(#bl)"/>
<path d="M108.60,515.70 L109.47,514.68 L110.33,514.43 L111.20,514.30 L112.07,514.23 L112.93,514.20 L113.80,514.18 L114.67,514.17 L115.53,514.17 L116.40,514.17 L117.27,514.17 L118.13,514.17 L119.00,514.17 L119.87,514.17 L120.73,514.17 L121.60,514.17 L122.47,514.17 L123.33,514.17 L124.20,514.18 L125.07,514.20 L125.93,514.23 L126.80,514.30 L127.67,514.43 L128.53,514.68 L129.40,515.70 L129.40,515.70 L128.53,516.72 L127.67,516.97 L126.80,517.10 L125.93,517.17 L125.07,517.20 L124.20,517.22 L123.33,517.23 L122.47,517.23 L121.60,517.23 L120.73,517.23 L119.87,517.23 L119.00,517.23 L118.13,517.23 L117.27,517.23 L116.40,517.23 L115.53,517.23 L114.67,517.23 L113.80,517.22 L112.93,517.20 L112.07,517.17 L111.20,517.10 L110.33,516.97 L109.47,516.72 L108.60,515.70Z" fill="rgb(62,62,62)" filter="url(#bl)"/>
<path d="M134.30,515.70 L135.16,514.26 L136.03,513.90 L136.89,513.72 L137.75,513.63 L138.61,513.58 L139.48,513.56 L140.34,513.55 L141.20,513.54 L142.06,513.54 L142.93,513.54 L143.79,513.54 L144.65,513.54 L145.51,513.54 L146.38,513.54 L147.24,513.54 L148.10,513.54 L148.96,513.55 L149.82,513.56 L150.69,513.58 L151.55,513.63 L152.41,513.72 L153.28,513.90 L154.14,514.26 L155.00,515.70 L155.00,515.70 L154.14,517.14 L153.28,517.50 L152.41,517.68 L151.55,517.77 L150.69,517.82 L149.82,517.84 L148.96,517.85 L148.10,517.86 L147.24,517.86 L146.38,517.86 L145.51,517.86 L144.65,517.86 L143.79,517.86 L142.93,517.86 L142.06,517.86 L141.20,517.86 L140.34,517.85 L139.48,517.84 L138.61,517.82 L137.75,517.77 L136.89,517.68 L136.03,517.50 L135.16,517.14 L134.30,515.70Z" fill="rgb(39,39,39)" filter="url(#bl)"/>
<path d="M159.40,515.70 L160.18,514.92 L160.97,514.73 L161.75,514.63 L162.53,514.58 L163.32,514.55 L164.10,514.54 L164.88,514.53 L165.67,514.53 L166.45,514.53 L167.23,514.53 L168.02,514.53 L168.80,514.53 L169.58,514.53 L170.37,514.53 L171.15,514.53 L171.93,514.53 L172.72,514.53 L173.50,514.54 L174.28,514.55 L175.07,514.58 L175.85,514.63 L176.63,514.73 L177.42,514.92 L178.20,515.70 L178.20,515.70 L177.42,516.48 L176.63,516.67 L175.85,516.77 L175.07,516.82 L174.28,516.85 L173.50,516.86 L172.72,516.87 L171.93,516.87 L171.15,516.87 L170.37,516.87 L169.58,516.87 L168.80,516.87 L168.02,516.87 L167.23,516.87 L166.45,516.87 L165.67,516.87 L164.88,516.87 L164.10,516.86 L163.32,516.85 L162.53,516.82 L161.75,516.77 L160.97,516.67 L160.18,516.48 L159.40,515.70Z" fill="rgb(90,90,90)" filter="url(#bl)"/>
<path d="M183.10,515.70 L183.97,514.62 L184.83,514.35 L185.70,514.22 L186.57,514.15 L187.43,514.11 L188.30,514.09 L189.17,514.08 L190.03,514.08 L190.90,514.08 L191.77,514.08 L192.63,514.08 L193.50,514.08 L194.37,514.08 L195.23,514.08 L196.10,514.08 L196.97,514.08 L197.83,514.08 L198.70,514.09 L199.57,514.11 L200.43,514.15 L201.30,514.22 L202.17,514.35 L203.03,514.62 L203.90,515.70 L203.90,515.70 L203.03,516.78 L202.17,517.05 L201.30,517.18 L200.43,517.25 L199.57,517.29 L198.70,517.31 L197.83,517.32 L196.97,517.32 L196.10,517.32 L195.23,517.32 L194.37,517.32 L193.50,517.32 L192.63,517.32 L191.77,517.32 L190.90,517.32 L190.03,517.32 L189.17,517.32 L188.30,517.31 L187.43,517.29 L186.57,517.25 L185.70,517.18 L184.83,517.05 L183.97,516.78 L183.10,515.70Z" fill="rgb(55,55,55)" filter="url(#bl)"/>
<rect x="52.30" y="531.50" width="155.80" height="19.30" fill="#c7c7c7" stroke="#1a1a1a" stroke-width="1.4" rx="0" />
<text x="14.10" y="543.20" font-size="10.75" text-anchor="start" font-weight="bold" fill="#000" >p-CaM</text>
<path d="M63.40,542.30 L64.22,541.22 L65.03,540.95 L65.85,540.82 L66.67,540.75 L67.48,540.71 L68.30,540.69 L69.12,540.68 L69.93,540.68 L70.75,540.68 L71.57,540.68 L72.38,540.68 L73.20,540.68 L74.02,540.68 L74.83,540.68 L75.65,540.68 L76.47,540.68 L77.28,540.68 L78.10,540.69 L78.92,540.71 L79.73,540.75 L80.55,540.82 L81.37,540.95 L82.18,541.22 L83.00,542.30 L83.00,542.30 L82.18,543.38 L81.37,543.65 L80.55,543.78 L79.73,543.85 L78.92,543.89 L78.10,543.91 L77.28,543.92 L76.47,543.92 L75.65,543.92 L74.83,543.92 L74.02,543.92 L73.20,543.92 L72.38,543.92 L71.57,543.92 L70.75,543.92 L69.93,543.92 L69.12,543.92 L68.30,543.91 L67.48,543.89 L66.67,543.85 L65.85,543.78 L65.03,543.65 L64.22,543.38 L63.40,542.30Z" fill="rgb(43,43,43)" filter="url(#bl)"/>
<path d="M87.90,542.30 L88.64,541.64 L89.38,541.48 L90.12,541.39 L90.87,541.35 L91.61,541.33 L92.35,541.32 L93.09,541.31 L93.83,541.31 L94.58,541.31 L95.32,541.31 L96.06,541.31 L96.80,541.31 L97.54,541.31 L98.28,541.31 L99.03,541.31 L99.77,541.31 L100.51,541.31 L101.25,541.32 L101.99,541.33 L102.73,541.35 L103.48,541.39 L104.22,541.48 L104.96,541.64 L105.70,542.30 L105.70,542.30 L104.96,542.96 L104.22,543.12 L103.48,543.21 L102.73,543.25 L101.99,543.27 L101.25,543.28 L100.51,543.29 L99.77,543.29 L99.03,543.29 L98.28,543.29 L97.54,543.29 L96.80,543.29 L96.06,543.29 L95.32,543.29 L94.58,543.29 L93.83,543.29 L93.09,543.29 L92.35,543.28 L91.61,543.27 L90.87,543.25 L90.12,543.21 L89.38,543.12 L88.64,542.96 L87.90,542.30Z" fill="rgb(98,98,98)" filter="url(#bl)"/>
<path d="M111.60,542.30 L112.37,541.40 L113.14,541.18 L113.91,541.06 L114.68,541.00 L115.45,540.97 L116.22,540.96 L117.00,540.95 L117.77,540.95 L118.54,540.95 L119.31,540.95 L120.08,540.95 L120.85,540.95 L121.62,540.95 L122.39,540.95 L123.16,540.95 L123.93,540.95 L124.70,540.95 L125.47,540.96 L126.25,540.97 L127.02,541.00 L127.79,541.06 L128.56,541.18 L129.33,541.40 L130.10,542.30 L130.10,542.30 L129.33,543.20 L128.56,543.42 L127.79,543.54 L127.02,543.60 L126.25,543.63 L125.47,543.64 L124.70,543.65 L123.93,543.65 L123.16,543.65 L122.39,543.65 L121.62,543.65 L120.85,543.65 L120.08,543.65 L119.31,543.65 L118.54,543.65 L117.77,543.65 L117.00,543.65 L116.22,543.64 L115.45,543.63 L114.68,543.60 L113.91,543.54 L113.14,543.42 L112.37,543.20 L111.60,542.30Z" fill="rgb(62,62,62)" filter="url(#bl)"/>
<path d="M134.30,542.30 L135.08,540.92 L135.87,540.58 L136.65,540.40 L137.43,540.31 L138.22,540.27 L139.00,540.24 L139.78,540.23 L140.57,540.23 L141.35,540.23 L142.13,540.23 L142.92,540.23 L143.70,540.23 L144.48,540.23 L145.27,540.23 L146.05,540.23 L146.83,540.23 L147.62,540.23 L148.40,540.24 L149.18,540.27 L149.97,540.31 L150.75,540.40 L151.53,540.58 L152.32,540.92 L153.10,542.30 L153.10,542.30 L152.32,543.68 L151.53,544.02 L150.75,544.20 L149.97,544.29 L149.18,544.33 L148.40,544.36 L147.62,544.37 L146.83,544.37 L146.05,544.37 L145.27,544.37 L144.48,544.37 L143.70,544.37 L142.92,544.37 L142.13,544.37 L141.35,544.37 L140.57,544.37 L139.78,544.37 L139.00,544.36 L138.22,544.33 L137.43,544.29 L136.65,544.20 L135.87,544.02 L135.08,543.68 L134.30,542.30Z" fill="rgb(31,31,31)" filter="url(#bl)"/>
<path d="M158.70,542.30 L159.41,541.70 L160.12,541.55 L160.84,541.48 L161.55,541.44 L162.26,541.42 L162.97,541.41 L163.69,541.40 L164.40,541.40 L165.11,541.40 L165.82,541.40 L166.54,541.40 L167.25,541.40 L167.96,541.40 L168.68,541.40 L169.39,541.40 L170.10,541.40 L170.81,541.40 L171.53,541.41 L172.24,541.42 L172.95,541.44 L173.66,541.48 L174.38,541.55 L175.09,541.70 L175.80,542.30 L175.80,542.30 L175.09,542.90 L174.38,543.05 L173.66,543.12 L172.95,543.16 L172.24,543.18 L171.53,543.19 L170.81,543.20 L170.10,543.20 L169.39,543.20 L168.68,543.20 L167.96,543.20 L167.25,543.20 L166.54,543.20 L165.82,543.20 L165.11,543.20 L164.40,543.20 L163.69,543.20 L162.97,543.19 L162.26,543.18 L161.55,543.16 L160.84,543.12 L160.12,543.05 L159.41,542.90 L158.70,542.30Z" fill="rgb(121,121,121)" filter="url(#bl)"/>
<path d="M181.90,542.30 L182.63,541.16 L183.37,540.88 L184.10,540.73 L184.83,540.66 L185.57,540.62 L186.30,540.60 L187.03,540.59 L187.77,540.59 L188.50,540.59 L189.23,540.59 L189.97,540.59 L190.70,540.59 L191.43,540.59 L192.17,540.59 L192.90,540.59 L193.63,540.59 L194.37,540.59 L195.10,540.60 L195.83,540.62 L196.57,540.66 L197.30,540.73 L198.03,540.88 L198.77,541.16 L199.50,542.30 L199.50,542.30 L198.77,543.44 L198.03,543.72 L197.30,543.87 L196.57,543.94 L195.83,543.98 L195.10,544.00 L194.37,544.01 L193.63,544.01 L192.90,544.01 L192.17,544.01 L191.43,544.01 L190.70,544.01 L189.97,544.01 L189.23,544.01 L188.50,544.01 L187.77,544.01 L187.03,544.01 L186.30,544.00 L185.57,543.98 L184.83,543.94 L184.10,543.87 L183.37,543.72 L182.63,543.44 L181.90,542.30Z" fill="rgb(39,39,39)" filter="url(#bl)"/>
<rect x="52.30" y="557.70" width="155.80" height="19.30" fill="#c7c7c7" stroke="#1a1a1a" stroke-width="1.4" rx="0" />
<text x="11.90" y="568.60" font-size="10.75" text-anchor="start" font-weight="bold" fill="#000" >CaMKII</text>
<path d="M56.80,567.50 L57.76,566.12 L58.72,565.78 L59.67,565.60 L60.63,565.51 L61.59,565.47 L62.55,565.44 L63.51,565.43 L64.47,565.43 L65.42,565.43 L66.38,565.43 L67.34,565.43 L68.30,565.43 L69.26,565.43 L70.22,565.43 L71.17,565.43 L72.13,565.43 L73.09,565.43 L74.05,565.44 L75.01,565.47 L75.97,565.51 L76.92,565.60 L77.88,565.78 L78.84,566.12 L79.80,567.50 L79.80,567.50 L78.84,568.88 L77.88,569.22 L76.92,569.40 L75.97,569.49 L75.01,569.53 L74.05,569.56 L73.09,569.57 L72.13,569.57 L71.17,569.57 L70.22,569.57 L69.26,569.57 L68.30,569.57 L67.34,569.57 L66.38,569.57 L65.42,569.57 L64.47,569.57 L63.51,569.57 L62.55,569.56 L61.59,569.53 L60.63,569.49 L59.67,569.40 L58.72,569.22 L57.76,568.88 L56.80,567.50Z" fill="rgb(35,35,35)" filter="url(#bl)"/>
<path d="M86.20,567.50 L86.93,566.60 L87.66,566.38 L88.39,566.26 L89.12,566.20 L89.85,566.17 L90.58,566.16 L91.30,566.15 L92.03,566.15 L92.76,566.15 L93.49,566.15 L94.22,566.15 L94.95,566.15 L95.68,566.15 L96.41,566.15 L97.14,566.15 L97.87,566.15 L98.60,566.15 L99.33,566.16 L100.05,566.17 L100.78,566.20 L101.51,566.26 L102.24,566.38 L102.97,566.60 L103.70,567.50 L103.70,567.50 L102.97,568.40 L102.24,568.62 L101.51,568.74 L100.78,568.80 L100.05,568.83 L99.33,568.84 L98.60,568.85 L97.87,568.85 L97.14,568.85 L96.41,568.85 L95.68,568.85 L94.95,568.85 L94.22,568.85 L93.49,568.85 L92.76,568.85 L92.03,568.85 L91.30,568.85 L90.58,568.84 L89.85,568.83 L89.12,568.80 L88.39,568.74 L87.66,568.62 L86.93,568.40 L86.20,567.50Z" fill="rgb(62,62,62)" filter="url(#bl)"/>
<path d="M109.80,567.50 L110.62,566.12 L111.43,565.78 L112.25,565.60 L113.07,565.51 L113.88,565.47 L114.70,565.44 L115.52,565.43 L116.33,565.43 L117.15,565.43 L117.97,565.43 L118.78,565.43 L119.60,565.43 L120.42,565.43 L121.23,565.43 L122.05,565.43 L122.87,565.43 L123.68,565.43 L124.50,565.44 L125.32,565.47 L126.13,565.51 L126.95,565.60 L127.77,565.78 L128.58,566.12 L129.40,567.50 L129.40,567.50 L128.58,568.88 L127.77,569.22 L126.95,569.40 L126.13,569.49 L125.32,569.53 L124.50,569.56 L123.68,569.57 L122.87,569.57 L122.05,569.57 L121.23,569.57 L120.42,569.57 L119.60,569.57 L118.78,569.57 L117.97,569.57 L117.15,569.57 L116.33,569.57 L115.52,569.57 L114.70,569.56 L113.88,569.53 L113.07,569.49 L112.25,569.40 L111.43,569.22 L110.62,568.88 L109.80,567.50Z" fill="rgb(35,35,35)" filter="url(#bl)"/>
<path d="M134.30,567.50 L135.08,566.12 L135.87,565.78 L136.65,565.60 L137.43,565.51 L138.22,565.47 L139.00,565.44 L139.78,565.43 L140.57,565.43 L141.35,565.43 L142.13,565.43 L142.92,565.43 L143.70,565.43 L144.48,565.43 L145.27,565.43 L146.05,565.43 L146.83,565.43 L147.62,565.43 L148.40,565.44 L149.18,565.47 L149.97,565.51 L150.75,565.60 L151.53,565.78 L152.32,566.12 L153.10,567.50 L153.10,567.50 L152.32,568.88 L151.53,569.22 L150.75,569.40 L149.97,569.49 L149.18,569.53 L148.40,569.56 L147.62,569.57 L146.83,569.57 L146.05,569.57 L145.27,569.57 L144.48,569.57 L143.70,569.57 L142.92,569.57 L142.13,569.57 L141.35,569.57 L140.57,569.57 L139.78,569.57 L139.00,569.56 L138.22,569.53 L137.43,569.49 L136.65,569.40 L135.87,569.22 L135.08,568.88 L134.30,567.50Z" fill="rgb(35,35,35)" filter="url(#bl)"/>
<path d="M158.70,567.50 L159.44,566.66 L160.18,566.45 L160.92,566.35 L161.67,566.29 L162.41,566.26 L163.15,566.25 L163.89,566.24 L164.63,566.24 L165.38,566.24 L166.12,566.24 L166.86,566.24 L167.60,566.24 L168.34,566.24 L169.08,566.24 L169.82,566.24 L170.57,566.24 L171.31,566.24 L172.05,566.25 L172.79,566.26 L173.53,566.29 L174.28,566.35 L175.02,566.45 L175.76,566.66 L176.50,567.50 L176.50,567.50 L175.76,568.34 L175.02,568.55 L174.28,568.65 L173.53,568.71 L172.79,568.74 L172.05,568.75 L171.31,568.76 L170.57,568.76 L169.82,568.76 L169.08,568.76 L168.34,568.76 L167.60,568.76 L166.86,568.76 L166.12,568.76 L165.38,568.76 L164.63,568.76 L163.89,568.76 L163.15,568.75 L162.41,568.74 L161.67,568.71 L160.92,568.65 L160.18,568.55 L159.44,568.34 L158.70,567.50Z" fill="rgb(78,78,78)" filter="url(#bl)"/>
<path d="M182.40,567.50 L183.14,566.60 L183.88,566.38 L184.62,566.26 L185.37,566.20 L186.11,566.17 L186.85,566.16 L187.59,566.15 L188.33,566.15 L189.07,566.15 L189.82,566.15 L190.56,566.15 L191.30,566.15 L192.04,566.15 L192.78,566.15 L193.53,566.15 L194.27,566.15 L195.01,566.15 L195.75,566.16 L196.49,566.17 L197.23,566.20 L197.97,566.26 L198.72,566.38 L199.46,566.60 L200.20,567.50 L200.20,567.50 L199.46,568.40 L198.72,568.62 L197.97,568.74 L197.23,568.80 L196.49,568.83 L195.75,568.84 L195.01,568.85 L194.27,568.85 L193.53,568.85 L192.78,568.85 L192.04,568.85 L191.30,568.85 L190.56,568.85 L189.82,568.85 L189.07,568.85 L188.33,568.85 L187.59,568.85 L186.85,568.84 L186.11,568.83 L185.37,568.80 L184.62,568.74 L183.88,568.62 L183.14,568.40 L182.40,567.50Z" fill="rgb(62,62,62)" filter="url(#bl)"/>
<rect x="52.30" y="584.20" width="155.80" height="19.80" fill="#c7c7c7" stroke="#1a1a1a" stroke-width="1.4" rx="0" />
<text x="13.60" y="595.80" font-size="10.75" text-anchor="start" font-weight="bold" fill="#000" >Cx43</text>
<path d="M59.80,594.20 L60.73,593.06 L61.67,592.78 L62.60,592.63 L63.53,592.56 L64.47,592.52 L65.40,592.50 L66.33,592.49 L67.27,592.49 L68.20,592.49 L69.13,592.49 L70.07,592.49 L71.00,592.49 L71.93,592.49 L72.87,592.49 L73.80,592.49 L74.73,592.49 L75.67,592.49 L76.60,592.50 L77.53,592.52 L78.47,592.56 L79.40,592.63 L80.33,592.78 L81.27,593.06 L82.20,594.20 L82.20,594.20 L81.27,595.34 L80.33,595.62 L79.40,595.77 L78.47,595.84 L77.53,595.88 L76.60,595.90 L75.67,595.91 L74.73,595.91 L73.80,595.91 L72.87,595.91 L71.93,595.91 L71.00,595.91 L70.07,595.91 L69.13,595.91 L68.20,595.91 L67.27,595.91 L66.33,595.91 L65.40,595.90 L64.47,595.88 L63.53,595.84 L62.60,595.77 L61.67,595.62 L60.73,595.34 L59.80,594.20Z" fill="rgb(43,43,43)" filter="url(#bl)"/>
<path d="M86.60,594.20 L87.40,593.36 L88.19,593.15 L88.99,593.05 L89.78,592.99 L90.58,592.96 L91.38,592.95 L92.17,592.94 L92.97,592.94 L93.76,592.94 L94.56,592.94 L95.35,592.94 L96.15,592.94 L96.95,592.94 L97.74,592.94 L98.54,592.94 L99.33,592.94 L100.13,592.94 L100.92,592.95 L101.72,592.96 L102.52,592.99 L103.31,593.05 L104.11,593.15 L104.90,593.36 L105.70,594.20 L105.70,594.20 L104.90,595.04 L104.11,595.25 L103.31,595.35 L102.52,595.41 L101.72,595.44 L100.92,595.45 L100.13,595.46 L99.33,595.46 L98.54,595.46 L97.74,595.46 L96.95,595.46 L96.15,595.46 L95.35,595.46 L94.56,595.46 L93.76,595.46 L92.97,595.46 L92.17,595.46 L91.38,595.45 L90.58,595.44 L89.78,595.41 L88.99,595.35 L88.19,595.25 L87.40,595.04 L86.60,594.20Z" fill="rgb(62,62,62)" filter="url(#bl)"/>
<path d="M111.00,594.20 L111.82,593.12 L112.63,592.85 L113.45,592.72 L114.27,592.65 L115.08,592.61 L115.90,592.59 L116.72,592.58 L117.53,592.58 L118.35,592.58 L119.17,592.58 L119.98,592.58 L120.80,592.58 L121.62,592.58 L122.43,592.58 L123.25,592.58 L124.07,592.58 L124.88,592.58 L125.70,592.59 L126.52,592.61 L127.33,592.65 L128.15,592.72 L128.97,592.85 L129.78,593.12 L130.60,594.20 L130.60,594.20 L129.78,595.28 L128.97,595.55 L128.15,595.68 L127.33,595.75 L126.52,595.79 L125.70,595.81 L124.88,595.82 L124.07,595.82 L123.25,595.82 L122.43,595.82 L121.62,595.82 L120.80,595.82 L119.98,595.82 L119.17,595.82 L118.35,595.82 L117.53,595.82 L116.72,595.82 L115.90,595.81 L115.08,595.79 L114.27,595.75 L113.45,595.68 L112.63,595.55 L111.82,595.28 L111.00,594.20Z" fill="rgb(47,47,47)" filter="url(#bl)"/>
<path d="M134.30,594.20 L135.06,592.94 L135.83,592.63 L136.59,592.47 L137.35,592.39 L138.11,592.34 L138.88,592.32 L139.64,592.31 L140.40,592.31 L141.16,592.31 L141.93,592.31 L142.69,592.31 L143.45,592.31 L144.21,592.31 L144.97,592.31 L145.74,592.31 L146.50,592.31 L147.26,592.31 L148.03,592.32 L148.79,592.34 L149.55,592.39 L150.31,592.47 L151.07,592.63 L151.84,592.94 L152.60,594.20 L152.60,594.20 L151.84,595.46 L151.07,595.77 L150.31,595.93 L149.55,596.01 L148.79,596.06 L148.03,596.08 L147.26,596.09 L146.50,596.09 L145.74,596.09 L144.97,596.09 L144.21,596.09 L143.45,596.09 L142.69,596.09 L141.93,596.09 L141.16,596.09 L140.40,596.09 L139.64,596.09 L138.88,596.08 L138.11,596.06 L137.35,596.01 L136.59,595.93 L135.83,595.77 L135.06,595.46 L134.30,594.20Z" fill="rgb(39,39,39)" filter="url(#bl)"/>
<path d="M157.50,594.20 L158.26,593.36 L159.03,593.15 L159.79,593.05 L160.55,592.99 L161.31,592.96 L162.07,592.95 L162.84,592.94 L163.60,592.94 L164.36,592.94 L165.12,592.94 L165.89,592.94 L166.65,592.94 L167.41,592.94 L168.18,592.94 L168.94,592.94 L169.70,592.94 L170.46,592.94 L171.23,592.95 L171.99,592.96 L172.75,592.99 L173.51,593.05 L174.28,593.15 L175.04,593.36 L175.80,594.20 L175.80,594.20 L175.04,595.04 L174.28,595.25 L173.51,595.35 L172.75,595.41 L171.99,595.44 L171.23,595.45 L170.46,595.46 L169.70,595.46 L168.94,595.46 L168.18,595.46 L167.41,595.46 L166.65,595.46 L165.89,595.46 L165.12,595.46 L164.36,595.46 L163.60,595.46 L162.84,595.46 L162.07,595.45 L161.31,595.44 L160.55,595.41 L159.79,595.35 L159.03,595.25 L158.26,595.04 L157.50,594.20Z" fill="rgb(66,66,66)" filter="url(#bl)"/>
<path d="M179.50,594.20 L180.31,593.06 L181.12,592.78 L181.94,592.63 L182.75,592.56 L183.56,592.52 L184.38,592.50 L185.19,592.49 L186.00,592.49 L186.81,592.49 L187.62,592.49 L188.44,592.49 L189.25,592.49 L190.06,592.49 L190.88,592.49 L191.69,592.49 L192.50,592.49 L193.31,592.49 L194.12,592.50 L194.94,592.52 L195.75,592.56 L196.56,592.63 L197.38,592.78 L198.19,593.06 L199.00,594.20 L199.00,594.20 L198.19,595.34 L197.38,595.62 L196.56,595.77 L195.75,595.84 L194.94,595.88 L194.12,595.90 L193.31,595.91 L192.50,595.91 L191.69,595.91 L190.88,595.91 L190.06,595.91 L189.25,595.91 L188.44,595.91 L187.62,595.91 L186.81,595.91 L186.00,595.91 L185.19,595.91 L184.38,595.90 L183.56,595.88 L182.75,595.84 L181.94,595.77 L181.12,595.62 L180.31,595.34 L179.50,594.20Z" fill="rgb(43,43,43)" filter="url(#bl)"/>
<rect x="52.30" y="610.70" width="155.80" height="19.60" fill="#c4c4c4" stroke="#1a1a1a" stroke-width="1.4" rx="0" />
<text x="13.00" y="624.40" font-size="10.75" text-anchor="start" font-weight="bold" fill="#000" >PPAR&#948;</text>
<path d="M60.30,621.50 L61.21,620.60 L62.12,620.38 L63.04,620.26 L63.95,620.20 L64.86,620.17 L65.78,620.16 L66.69,620.15 L67.60,620.15 L68.51,620.15 L69.42,620.15 L70.34,620.15 L71.25,620.15 L72.16,620.15 L73.08,620.15 L73.99,620.15 L74.90,620.15 L75.81,620.15 L76.72,620.16 L77.64,620.17 L78.55,620.20 L79.46,620.26 L80.38,620.38 L81.29,620.60 L82.20,621.50 L82.20,621.50 L81.29,622.40 L80.38,622.62 L79.46,622.74 L78.55,622.80 L77.64,622.83 L76.72,622.84 L75.81,622.85 L74.90,622.85 L73.99,622.85 L73.08,622.85 L72.16,622.85 L71.25,622.85 L70.34,622.85 L69.42,622.85 L68.51,622.85 L67.60,622.85 L66.69,622.85 L65.78,622.84 L64.86,622.83 L63.95,622.80 L63.04,622.74 L62.12,622.62 L61.21,622.40 L60.30,621.50Z" fill="rgb(55,55,55)" filter="url(#bl)"/>
<path d="M87.90,621.50 L88.68,620.84 L89.47,620.68 L90.25,620.59 L91.03,620.55 L91.82,620.53 L92.60,620.52 L93.38,620.51 L94.17,620.51 L94.95,620.51 L95.73,620.51 L96.52,620.51 L97.30,620.51 L98.08,620.51 L98.87,620.51 L99.65,620.51 L100.43,620.51 L101.22,620.51 L102.00,620.52 L102.78,620.53 L103.57,620.55 L104.35,620.59 L105.13,620.68 L105.92,620.84 L106.70,621.50 L106.70,621.50 L105.92,622.16 L105.13,622.32 L104.35,622.41 L103.57,622.45 L102.78,622.47 L102.00,622.48 L101.22,622.49 L100.43,622.49 L99.65,622.49 L98.87,622.49 L98.08,622.49 L97.30,622.49 L96.52,622.49 L95.73,622.49 L94.95,622.49 L94.17,622.49 L93.38,622.49 L92.60,622.48 L91.82,622.47 L91.03,622.45 L90.25,622.41 L89.47,622.32 L88.68,622.16 L87.90,621.50Z" fill="rgb(105,105,105)" filter="url(#bl)"/>
<path d="M112.30,621.50 L113.11,620.60 L113.92,620.38 L114.74,620.26 L115.55,620.20 L116.36,620.17 L117.17,620.16 L117.99,620.15 L118.80,620.15 L119.61,620.15 L120.43,620.15 L121.24,620.15 L122.05,620.15 L122.86,620.15 L123.68,620.15 L124.49,620.15 L125.30,620.15 L126.11,620.15 L126.93,620.16 L127.74,620.17 L128.55,620.20 L129.36,620.26 L130.18,620.38 L130.99,620.60 L131.80,621.50 L131.80,621.50 L130.99,622.40 L130.18,622.62 L129.36,622.74 L128.55,622.80 L127.74,622.83 L126.93,622.84 L126.11,622.85 L125.30,622.85 L124.49,622.85 L123.68,622.85 L122.86,622.85 L122.05,622.85 L121.24,622.85 L120.43,622.85 L119.61,622.85 L118.80,622.85 L117.99,622.85 L117.17,622.84 L116.36,622.83 L115.55,622.80 L114.74,622.74 L113.92,622.62 L113.11,622.40 L112.30,621.50Z" fill="rgb(59,59,59)" filter="url(#bl)"/>
<path d="M135.50,621.50 L136.26,620.42 L137.03,620.15 L137.79,620.02 L138.55,619.95 L139.31,619.91 L140.07,619.89 L140.84,619.88 L141.60,619.88 L142.36,619.88 L143.12,619.88 L143.89,619.88 L144.65,619.88 L145.41,619.88 L146.18,619.88 L146.94,619.88 L147.70,619.88 L148.46,619.88 L149.23,619.89 L149.99,619.91 L150.75,619.95 L151.51,620.02 L152.28,620.15 L153.04,620.42 L153.80,621.50 L153.80,621.50 L153.04,622.58 L152.28,622.85 L151.51,622.98 L150.75,623.05 L149.99,623.09 L149.23,623.11 L148.46,623.12 L147.70,623.12 L146.94,623.12 L146.18,623.12 L145.41,623.12 L144.65,623.12 L143.89,623.12 L143.12,623.12 L142.36,623.12 L141.60,623.12 L140.84,623.12 L140.07,623.11 L139.31,623.09 L138.55,623.05 L137.79,622.98 L137.03,622.85 L136.26,622.58 L135.50,621.50Z" fill="rgb(47,47,47)" filter="url(#bl)"/>
<path d="M159.90,621.50 L160.61,620.90 L161.33,620.75 L162.04,620.68 L162.75,620.64 L163.46,620.62 L164.18,620.61 L164.89,620.60 L165.60,620.60 L166.31,620.60 L167.03,620.60 L167.74,620.60 L168.45,620.60 L169.16,620.60 L169.88,620.60 L170.59,620.60 L171.30,620.60 L172.01,620.60 L172.72,620.61 L173.44,620.62 L174.15,620.64 L174.86,620.68 L175.57,620.75 L176.29,620.90 L177.00,621.50 L177.00,621.50 L176.29,622.10 L175.57,622.25 L174.86,622.32 L174.15,622.36 L173.44,622.38 L172.72,622.39 L172.01,622.40 L171.30,622.40 L170.59,622.40 L169.88,622.40 L169.16,622.40 L168.45,622.40 L167.74,622.40 L167.03,622.40 L166.31,622.40 L165.60,622.40 L164.89,622.40 L164.18,622.39 L163.46,622.38 L162.75,622.36 L162.04,622.32 L161.33,622.25 L160.61,622.10 L159.90,621.50Z" fill="rgb(113,113,113)" filter="url(#bl)"/>
<path d="M181.90,621.50 L182.71,620.60 L183.53,620.38 L184.34,620.26 L185.15,620.20 L185.96,620.17 L186.78,620.16 L187.59,620.15 L188.40,620.15 L189.21,620.15 L190.03,620.15 L190.84,620.15 L191.65,620.15 L192.46,620.15 L193.28,620.15 L194.09,620.15 L194.90,620.15 L195.71,620.15 L196.53,620.16 L197.34,620.17 L198.15,620.20 L198.96,620.26 L199.78,620.38 L200.59,620.60 L201.40,621.50 L201.40,621.50 L200.59,622.40 L199.78,622.62 L198.96,622.74 L198.15,622.80 L197.34,622.83 L196.53,622.84 L195.71,622.85 L194.90,622.85 L194.09,622.85 L193.28,622.85 L192.46,622.85 L191.65,622.85 L190.84,622.85 L190.03,622.85 L189.21,622.85 L188.40,622.85 L187.59,622.85 L186.78,622.84 L185.96,622.83 L185.15,622.80 L184.34,622.74 L183.53,622.62 L182.71,622.40 L181.90,621.50Z" fill="rgb(62,62,62)" filter="url(#bl)"/>
<rect x="52.30" y="636.80" width="155.80" height="20.10" fill="#bdbdbd" stroke="#1a1a1a" stroke-width="1.4" rx="0" />
<text x="14.40" y="650.90" font-size="10.75" text-anchor="start" font-weight="bold" fill="#000" >HSL</text>
<rect x="59" y="641.5" width="22" height="3.0" rx="1.5" fill="rgb(172,172,172)" filter="url(#bl2)"/>
<rect x="59" y="651.0999999999999" width="22" height="3.4" rx="1.7" fill="rgb(160,160,160)" filter="url(#bl2)"/>
<rect x="60" y="654.5" width="20" height="2.2" rx="1.1" fill="rgb(172,172,172)" filter="url(#bl2)"/>
<rect x="134" y="637.75" width="18" height="3.5" rx="1.75" fill="rgb(170,170,170)" filter="url(#bl2)"/>
<rect x="134.5" y="641.4" width="17.0" height="2.4" rx="1.2" fill="rgb(160,160,160)" filter="url(#bl2)"/>
<rect x="134" y="649.6" width="18" height="3.2" rx="1.6" fill="rgb(158,158,158)" filter="url(#bl2)"/>
<rect x="135" y="653.3000000000001" width="16" height="2.6" rx="1.3" fill="rgb(170,170,170)" filter="url(#bl2)"/>
<rect x="179" y="650.8" width="21" height="2.4" rx="1.2" fill="rgb(182,182,182)" filter="url(#bl2)"/>
<circle cx="167.3" cy="652" r="1.0" fill="#222" filter="url(#bl)"/>
<path d="M59.80,647.70 L60.63,646.50 L61.47,646.20 L62.30,646.05 L63.13,645.97 L63.97,645.93 L64.80,645.91 L65.63,645.90 L66.47,645.90 L67.30,645.90 L68.13,645.90 L68.97,645.90 L69.80,645.90 L70.63,645.90 L71.47,645.90 L72.30,645.90 L73.13,645.90 L73.97,645.90 L74.80,645.91 L75.63,645.93 L76.47,645.97 L77.30,646.05 L78.13,646.20 L78.97,646.50 L79.80,647.70 L79.80,647.70 L78.97,648.90 L78.13,649.20 L77.30,649.35 L76.47,649.43 L75.63,649.47 L74.80,649.49 L73.97,649.50 L73.13,649.50 L72.30,649.50 L71.47,649.50 L70.63,649.50 L69.80,649.50 L68.97,649.50 L68.13,649.50 L67.30,649.50 L66.47,649.50 L65.63,649.50 L64.80,649.49 L63.97,649.47 L63.13,649.43 L62.30,649.35 L61.47,649.20 L60.63,648.90 L59.80,647.70Z" fill="rgb(39,39,39)" filter="url(#bl)"/>
<path d="M84.20,647.70 L85.07,647.16 L85.93,647.03 L86.80,646.96 L87.67,646.92 L88.53,646.90 L89.40,646.90 L90.27,646.89 L91.13,646.89 L92.00,646.89 L92.87,646.89 L93.73,646.89 L94.60,646.89 L95.47,646.89 L96.33,646.89 L97.20,646.89 L98.07,646.89 L98.93,646.89 L99.80,646.90 L100.67,646.90 L101.53,646.92 L102.40,646.96 L103.27,647.03 L104.13,647.16 L105.00,647.70 L105.00,647.70 L104.13,648.24 L103.27,648.37 L102.40,648.44 L101.53,648.48 L100.67,648.50 L99.80,648.50 L98.93,648.51 L98.07,648.51 L97.20,648.51 L96.33,648.51 L95.47,648.51 L94.60,648.51 L93.73,648.51 L92.87,648.51 L92.00,648.51 L91.13,648.51 L90.27,648.51 L89.40,648.50 L88.53,648.50 L87.67,648.48 L86.80,648.44 L85.93,648.37 L85.07,648.24 L84.20,647.70Z" fill="rgb(148,148,148)" filter="url(#bl)"/>
<path d="M112.30,647.70 L113.06,646.80 L113.83,646.58 L114.59,646.46 L115.35,646.40 L116.11,646.37 L116.88,646.36 L117.64,646.35 L118.40,646.35 L119.16,646.35 L119.92,646.35 L120.69,646.35 L121.45,646.35 L122.21,646.35 L122.97,646.35 L123.74,646.35 L124.50,646.35 L125.26,646.35 L126.02,646.36 L126.79,646.37 L127.55,646.40 L128.31,646.46 L129.07,646.58 L129.84,646.80 L130.60,647.70 L130.60,647.70 L129.84,648.60 L129.07,648.82 L128.31,648.94 L127.55,649.00 L126.79,649.03 L126.02,649.04 L125.26,649.05 L124.50,649.05 L123.74,649.05 L122.97,649.05 L122.21,649.05 L121.45,649.05 L120.69,649.05 L119.92,649.05 L119.16,649.05 L118.40,649.05 L117.64,649.05 L116.88,649.04 L116.11,649.03 L115.35,649.00 L114.59,648.94 L113.83,648.82 L113.06,648.60 L112.30,647.70Z" fill="rgb(59,59,59)" filter="url(#bl)"/>
<path d="M135.00,647.70 L135.65,646.32 L136.30,645.98 L136.95,645.80 L137.60,645.71 L138.25,645.67 L138.90,645.64 L139.55,645.63 L140.20,645.63 L140.85,645.63 L141.50,645.63 L142.15,645.63 L142.80,645.63 L143.45,645.63 L144.10,645.63 L144.75,645.63 L145.40,645.63 L146.05,645.63 L146.70,645.64 L147.35,645.67 L148.00,645.71 L148.65,645.80 L149.30,645.98 L149.95,646.32 L150.60,647.70 L150.60,647.70 L149.95,649.08 L149.30,649.42 L148.65,649.60 L148.00,649.69 L147.35,649.73 L146.70,649.76 L146.05,649.77 L145.40,649.77 L144.75,649.77 L144.10,649.77 L143.45,649.77 L142.80,649.77 L142.15,649.77 L141.50,649.77 L140.85,649.77 L140.20,649.77 L139.55,649.77 L138.90,649.76 L138.25,649.73 L137.60,649.69 L136.95,649.60 L136.30,649.42 L135.65,649.08 L135.00,647.70Z" fill="rgb(31,31,31)" filter="url(#bl)"/>
<path d="M156.30,647.70 L157.16,647.16 L158.03,647.03 L158.89,646.96 L159.75,646.92 L160.61,646.90 L161.48,646.90 L162.34,646.89 L163.20,646.89 L164.06,646.89 L164.93,646.89 L165.79,646.89 L166.65,646.89 L167.51,646.89 L168.38,646.89 L169.24,646.89 L170.10,646.89 L170.96,646.89 L171.82,646.90 L172.69,646.90 L173.55,646.92 L174.41,646.96 L175.28,647.03 L176.14,647.16 L177.00,647.70 L177.00,647.70 L176.14,648.24 L175.28,648.37 L174.41,648.44 L173.55,648.48 L172.69,648.50 L171.82,648.50 L170.96,648.51 L170.10,648.51 L169.24,648.51 L168.38,648.51 L167.51,648.51 L166.65,648.51 L165.79,648.51 L164.93,648.51 L164.06,648.51 L163.20,648.51 L162.34,648.51 L161.48,648.50 L160.61,648.50 L159.75,648.48 L158.89,648.44 L158.03,648.37 L157.16,648.24 L156.30,647.70Z" fill="rgb(144,144,144)" filter="url(#bl)"/>
<path d="M180.00,647.70 L180.79,646.80 L181.58,646.58 L182.38,646.46 L183.17,646.40 L183.96,646.37 L184.75,646.36 L185.54,646.35 L186.33,646.35 L187.12,646.35 L187.92,646.35 L188.71,646.35 L189.50,646.35 L190.29,646.35 L191.08,646.35 L191.88,646.35 L192.67,646.35 L193.46,646.35 L194.25,646.36 L195.04,646.37 L195.83,646.40 L196.62,646.46 L197.42,646.58 L198.21,646.80 L199.00,647.70 L199.00,647.70 L198.21,648.60 L197.42,648.82 L196.62,648.94 L195.83,649.00 L195.04,649.03 L194.25,649.04 L193.46,649.05 L192.67,649.05 L191.88,649.05 L191.08,649.05 L190.29,649.05 L189.50,649.05 L188.71,649.05 L187.92,649.05 L187.12,649.05 L186.33,649.05 L185.54,649.05 L184.75,649.04 L183.96,649.03 L183.17,649.00 L182.38,648.94 L181.58,648.82 L180.79,648.60 L180.00,647.70Z" fill="rgb(55,55,55)" filter="url(#bl)"/>
<rect x="52.30" y="662.70" width="155.80" height="19.60" fill="#c7c7c7" stroke="#1a1a1a" stroke-width="1.4" rx="0" />
<text x="13.00" y="676.00" font-size="10.75" text-anchor="start" font-weight="bold" fill="#000" >&#946;-actin</text>
<path d="M57.80,672.30 L58.70,670.83 L59.61,670.46 L60.51,670.28 L61.42,670.18 L62.32,670.13 L63.22,670.11 L64.13,670.10 L65.03,670.10 L65.94,670.10 L66.84,670.10 L67.75,670.10 L68.65,670.09 L69.55,670.10 L70.46,670.10 L71.36,670.10 L72.27,670.10 L73.17,670.10 L74.08,670.11 L74.98,670.13 L75.88,670.18 L76.79,670.28 L77.69,670.46 L78.60,670.83 L79.50,672.30 L79.50,672.30 L78.60,673.77 L77.69,674.14 L76.79,674.32 L75.88,674.42 L74.98,674.47 L74.08,674.49 L73.17,674.50 L72.27,674.50 L71.36,674.50 L70.46,674.50 L69.55,674.50 L68.65,674.50 L67.75,674.50 L66.84,674.50 L65.94,674.50 L65.03,674.50 L64.13,674.50 L63.22,674.49 L62.32,674.47 L61.42,674.42 L60.51,674.32 L59.61,674.14 L58.70,673.77 L57.80,672.30Z" fill="rgb(26,26,26)" filter="url(#bl)"/>
<path d="M82.30,672.30 L83.20,670.83 L84.10,670.46 L85.00,670.28 L85.90,670.18 L86.80,670.13 L87.70,670.11 L88.60,670.10 L89.50,670.10 L90.40,670.10 L91.30,670.10 L92.20,670.10 L93.10,670.09 L94.00,670.10 L94.90,670.10 L95.80,670.10 L96.70,670.10 L97.60,670.10 L98.50,670.11 L99.40,670.13 L100.30,670.18 L101.20,670.28 L102.10,670.46 L103.00,670.83 L103.90,672.30 L103.90,672.30 L103.00,673.77 L102.10,674.14 L101.20,674.32 L100.30,674.42 L99.40,674.47 L98.50,674.49 L97.60,674.50 L96.70,674.50 L95.80,674.50 L94.90,674.50 L94.00,674.50 L93.10,674.50 L92.20,674.50 L91.30,674.50 L90.40,674.50 L89.50,674.50 L88.60,674.50 L87.70,674.49 L86.80,674.47 L85.90,674.42 L85.00,674.32 L84.10,674.14 L83.20,673.77 L82.30,672.30Z" fill="rgb(26,26,26)" filter="url(#bl)"/>
<path d="M106.00,672.30 L106.95,670.83 L107.91,670.46 L108.86,670.28 L109.82,670.18 L110.77,670.13 L111.72,670.11 L112.68,670.10 L113.63,670.10 L114.59,670.10 L115.54,670.10 L116.50,670.10 L117.45,670.09 L118.40,670.10 L119.36,670.10 L120.31,670.10 L121.27,670.10 L122.22,670.10 L123.18,670.11 L124.13,670.13 L125.08,670.18 L126.04,670.28 L126.99,670.46 L127.95,670.83 L128.90,672.30 L128.90,672.30 L127.95,673.77 L126.99,674.14 L126.04,674.32 L125.08,674.42 L124.13,674.47 L123.18,674.49 L122.22,674.50 L121.27,674.50 L120.31,674.50 L119.36,674.50 L118.40,674.50 L117.45,674.50 L116.50,674.50 L115.54,674.50 L114.59,674.50 L113.63,674.50 L112.68,674.50 L111.72,674.49 L110.77,674.47 L109.82,674.42 L108.86,674.32 L107.91,674.14 L106.95,673.77 L106.00,672.30Z" fill="rgb(26,26,26)" filter="url(#bl)"/>
<path d="M131.10,672.30 L132.03,670.83 L132.95,670.46 L133.88,670.28 L134.80,670.18 L135.72,670.13 L136.65,670.11 L137.57,670.10 L138.50,670.10 L139.43,670.10 L140.35,670.10 L141.28,670.10 L142.20,670.09 L143.12,670.10 L144.05,670.10 L144.97,670.10 L145.90,670.10 L146.83,670.10 L147.75,670.11 L148.68,670.13 L149.60,670.18 L150.53,670.28 L151.45,670.46 L152.38,670.83 L153.30,672.30 L153.30,672.30 L152.38,673.77 L151.45,674.14 L150.53,674.32 L149.60,674.42 L148.68,674.47 L147.75,674.49 L146.83,674.50 L145.90,674.50 L144.97,674.50 L144.05,674.50 L143.12,674.50 L142.20,674.50 L141.28,674.50 L140.35,674.50 L139.43,674.50 L138.50,674.50 L137.57,674.50 L136.65,674.49 L135.72,674.47 L134.80,674.42 L133.88,674.32 L132.95,674.14 L132.03,673.77 L131.10,672.30Z" fill="rgb(26,26,26)" filter="url(#bl)"/>
<path d="M155.60,672.30 L156.57,670.83 L157.54,670.46 L158.51,670.28 L159.48,670.18 L160.45,670.13 L161.43,670.11 L162.40,670.10 L163.37,670.10 L164.34,670.10 L165.31,670.10 L166.28,670.10 L167.25,670.09 L168.22,670.10 L169.19,670.10 L170.16,670.10 L171.13,670.10 L172.10,670.10 L173.07,670.11 L174.05,670.13 L175.02,670.18 L175.99,670.28 L176.96,670.46 L177.93,670.83 L178.90,672.30 L178.90,672.30 L177.93,673.77 L176.96,674.14 L175.99,674.32 L175.02,674.42 L174.05,674.47 L173.07,674.49 L172.10,674.50 L171.13,674.50 L170.16,674.50 L169.19,674.50 L168.22,674.50 L167.25,674.50 L166.28,674.50 L165.31,674.50 L164.34,674.50 L163.37,674.50 L162.40,674.50 L161.43,674.49 L160.45,674.47 L159.48,674.42 L158.51,674.32 L157.54,674.14 L156.57,673.77 L155.60,672.30Z" fill="rgb(26,26,26)" filter="url(#bl)"/>
<path d="M180.70,672.30 L181.69,670.77 L182.68,670.39 L183.67,670.20 L184.67,670.10 L185.66,670.05 L186.65,670.02 L187.64,670.01 L188.63,670.01 L189.62,670.01 L190.62,670.01 L191.61,670.01 L192.60,670.00 L193.59,670.01 L194.58,670.01 L195.57,670.01 L196.57,670.01 L197.56,670.01 L198.55,670.02 L199.54,670.05 L200.53,670.10 L201.53,670.20 L202.52,670.39 L203.51,670.77 L204.50,672.30 L204.50,672.30 L203.51,673.83 L202.52,674.21 L201.53,674.40 L200.53,674.50 L199.54,674.55 L198.55,674.58 L197.56,674.59 L196.57,674.59 L195.57,674.59 L194.58,674.59 L193.59,674.59 L192.60,674.59 L191.61,674.59 L190.62,674.59 L189.62,674.59 L188.63,674.59 L187.64,674.59 L186.65,674.58 L185.66,674.55 L184.67,674.50 L183.67,674.40 L182.68,674.21 L181.69,673.83 L180.70,672.30Z" fill="rgb(26,26,26)" filter="url(#bl)"/>
<text x="67.90" y="691.00" font-size="9.3" font-weight="bold" text-anchor="end" transform="rotate(-42 67.90 691.00)">lean</text>
<text x="93.90" y="691.70" font-size="9.3" font-weight="bold" text-anchor="end" transform="rotate(-42 93.90 691.70)">obese</text>
<text x="121.50" y="693.80" font-size="9.3" font-weight="bold" text-anchor="end" transform="rotate(-42 121.50 693.80)">obese +Cap</text>
<text x="147.50" y="691.30" font-size="9.3" font-weight="bold" text-anchor="end" transform="rotate(-42 147.50 691.30)">WT</text>
<text x="176.20" y="689.30" font-size="9.3" font-weight="bold" text-anchor="end" transform="rotate(-42 176.20 689.30)">db/db ND</text>
<text x="201.60" y="692.00" font-size="9.3" font-weight="bold" text-anchor="end" transform="rotate(-42 201.60 692.00)">db/db NC</text>
<line x1="300.35" y1="72.00" x2="300.35" y2="80.70" stroke="#505050" stroke-width="1.1"/>
<line x1="295.25" y1="72.00" x2="305.45" y2="72.00" stroke="#555" stroke-width="1.45"/>
<rect x="290.70" y="81.20" width="19.30" height="60.30" fill="#fff" stroke="#333" stroke-width="1.0" rx="0" />
<line x1="320.40" y1="99.80" x2="320.40" y2="105.60" stroke="#505050" stroke-width="1.1"/>
<line x1="315.30" y1="99.80" x2="325.50" y2="99.80" stroke="#555" stroke-width="1.45"/>
<rect x="311.00" y="106.10" width="18.80" height="35.40" fill="#a0a0a0" stroke="#333" stroke-width="1.0" rx="0" />
<line x1="340.85" y1="54.20" x2="340.85" y2="59.00" stroke="#505050" stroke-width="1.1"/>
<line x1="335.75" y1="54.20" x2="345.95" y2="54.20" stroke="#555" stroke-width="1.45"/>
<rect x="330.80" y="59.00" width="20.10" height="82.50" fill="#000" stroke="none" stroke-width="0" rx="0" />
<rect x="371.50" y="140.60" width="20.10" height="0.90" fill="#000" stroke="none" stroke-width="0" rx="0" />
<line x1="280.40" y1="33.80" x2="280.40" y2="142.40" stroke="#000" stroke-width="1.7"/>
<line x1="276.20" y1="141.50" x2="280.40" y2="141.50" stroke="#000" stroke-width="1.4"/>
<text x="0" y="0" transform="translate(274.20 145.60) scale(1.0 1.13)" font-size="9.6" text-anchor="end" font-weight="bold" fill="#000" >0.0</text>
<line x1="276.20" y1="105.70" x2="280.40" y2="105.70" stroke="#000" stroke-width="1.4"/>
<text x="0" y="0" transform="translate(274.20 109.80) scale(1.0 1.13)" font-size="9.6" text-anchor="end" font-weight="bold" fill="#000" >0.5</text>
<line x1="276.20" y1="69.90" x2="280.40" y2="69.90" stroke="#000" stroke-width="1.4"/>
<text x="0" y="0" transform="translate(274.20 74.00) scale(1.0 1.13)" font-size="9.6" text-anchor="end" font-weight="bold" fill="#000" >1.0</text>
<line x1="276.20" y1="34.10" x2="280.40" y2="34.10" stroke="#000" stroke-width="1.4"/>
<text x="0" y="0" transform="translate(274.20 38.20) scale(1.0 1.13)" font-size="9.6" text-anchor="end" font-weight="bold" fill="#000" >1.5</text>
<line x1="279.55" y1="141.50" x2="442.00" y2="141.50" stroke="#000" stroke-width="1.7"/>
<text x="0" y="0" font-size="9.4" font-weight="bold" text-anchor="middle" transform="translate(254.30 88.20) rotate(-90) scale(1 1.12)">TRPV1/GAPDH</text>
<rect x="286.30" y="33.70" width="14.20" height="4.50" fill="#fff" stroke="#444" stroke-width="1.0" rx="0.7" />
<text x="0" y="0" transform="translate(309.50 39.00) scale(1.0 1.13)" font-size="9.2" text-anchor="start" font-weight="bold" fill="#000" >ND</text>
<rect x="338.50" y="33.70" width="13.40" height="4.50" fill="#a0a0a0" stroke="#444" stroke-width="1.0" rx="0.7" />
<text x="0" y="0" transform="translate(361.60 39.00) scale(1.0 1.13)" font-size="9.2" text-anchor="start" font-weight="bold" fill="#000" >HD</text>
<rect x="397.80" y="33.70" width="14.30" height="4.50" fill="#000" stroke="#444" stroke-width="1.0" rx="0.7" />
<text x="0" y="0" transform="translate(420.80 39.00) scale(1.0 1.13)" font-size="9.2" text-anchor="start" font-weight="bold" fill="#000" >HC</text>
<text x="0" y="0" transform="translate(320.60 154.50) scale(1.0 1.13)" font-size="9.2" text-anchor="middle" font-weight="bold" fill="#000" >WT</text>
<text x="0" y="0" transform="translate(385.10 154.50) scale(1.0 1.13)" font-size="9.2" text-anchor="start" font-weight="bold" fill="#000" >TRPV1<tspan font-size="6.8" dy="-3.9">-/-</tspan></text>
<polygon points="320.50,91.40 321.17,93.18 323.07,93.27 321.58,94.45 322.09,96.28 320.50,95.23 318.91,96.28 319.42,94.45 317.93,93.27 319.83,93.18" fill="#111"/>
<polygon points="335.30,45.40 335.97,47.18 337.87,47.27 336.38,48.45 336.89,50.28 335.30,49.23 333.71,50.28 334.22,48.45 332.73,47.27 334.63,47.18" fill="#111"/>
<text x="343.10" y="50.80" font-size="7.4" text-anchor="start" font-weight="bold" fill="#111" font-style="italic">##</text>
<line x1="510.30" y1="102.60" x2="510.30" y2="108.50" stroke="#505050" stroke-width="1.1"/>
<line x1="505.20" y1="102.60" x2="515.40" y2="102.60" stroke="#555" stroke-width="1.45"/>
<rect x="500.90" y="109.00" width="18.80" height="36.10" fill="#fff" stroke="#333" stroke-width="1.0" rx="0" />
<line x1="530.40" y1="113.20" x2="530.40" y2="116.50" stroke="#505050" stroke-width="1.1"/>
<line x1="525.30" y1="113.20" x2="535.50" y2="113.20" stroke="#555" stroke-width="1.45"/>
<rect x="520.90" y="117.00" width="19.00" height="28.10" fill="#a0a0a0" stroke="#333" stroke-width="1.0" rx="0" />
<line x1="550.80" y1="81.20" x2="550.80" y2="82.90" stroke="#505050" stroke-width="1.1"/>
<line x1="545.70" y1="81.20" x2="555.90" y2="81.20" stroke="#555" stroke-width="1.45"/>
<rect x="540.60" y="82.90" width="20.40" height="62.20" fill="#000" stroke="none" stroke-width="0" rx="0" />
<line x1="591.35" y1="94.70" x2="591.35" y2="100.80" stroke="#505050" stroke-width="1.1"/>
<line x1="586.25" y1="94.70" x2="596.45" y2="94.70" stroke="#555" stroke-width="1.45"/>
<rect x="581.80" y="101.30" width="19.10" height="43.80" fill="#fff" stroke="#333" stroke-width="1.0" rx="0" />
<line x1="611.35" y1="115.80" x2="611.35" y2="122.10" stroke="#505050" stroke-width="1.1"/>
<line x1="606.25" y1="115.80" x2="616.45" y2="115.80" stroke="#555" stroke-width="1.45"/>
<rect x="601.90" y="122.60" width="18.90" height="22.50" fill="#a0a0a0" stroke="#333" stroke-width="1.0" rx="0" />
<line x1="631.65" y1="116.30" x2="631.65" y2="126.00" stroke="#505050" stroke-width="1.1"/>
<line x1="626.55" y1="116.30" x2="636.75" y2="116.30" stroke="#555" stroke-width="1.45"/>
<rect x="621.50" y="126.00" width="20.30" height="19.10" fill="#000" stroke="none" stroke-width="0" rx="0" />
<line x1="490.00" y1="38.00" x2="490.00" y2="146.00" stroke="#000" stroke-width="1.7"/>
<line x1="485.80" y1="145.10" x2="490.00" y2="145.10" stroke="#000" stroke-width="1.4"/>
<text x="0" y="0" transform="translate(483.80 149.20) scale(1.0 1.13)" font-size="9.6" text-anchor="end" font-weight="bold" fill="#000" >0.0</text>
<line x1="485.80" y1="109.50" x2="490.00" y2="109.50" stroke="#000" stroke-width="1.4"/>
<text x="0" y="0" transform="translate(483.80 113.60) scale(1.0 1.13)" font-size="9.6" text-anchor="end" font-weight="bold" fill="#000" >0.5</text>
<line x1="485.80" y1="73.90" x2="490.00" y2="73.90" stroke="#000" stroke-width="1.4"/>
<text x="0" y="0" transform="translate(483.80 78.00) scale(1.0 1.13)" font-size="9.6" text-anchor="end" font-weight="bold" fill="#000" >1.0</text>
<line x1="485.80" y1="38.30" x2="490.00" y2="38.30" stroke="#000" stroke-width="1.4"/>
<text x="0" y="0" transform="translate(483.80 42.40) scale(1.0 1.13)" font-size="9.6" text-anchor="end" font-weight="bold" fill="#000" >1.5</text>
<line x1="489.15" y1="145.10" x2="652.40" y2="145.10" stroke="#000" stroke-width="1.7"/>
<text x="0" y="0" font-size="9.4" font-weight="bold" text-anchor="middle" transform="translate(464.20 92.20) rotate(-90) scale(1 1.12)">P-CaM/GAPDH</text>
<rect x="497.50" y="38.00" width="15.00" height="5.00" fill="#fff" stroke="#444" stroke-width="1.0" rx="0.7" />
<text x="0" y="0" transform="translate(520.60 43.80) scale(1.0 1.13)" font-size="9.2" text-anchor="start" font-weight="bold" fill="#000" >ND</text>
<rect x="549.60" y="38.00" width="14.50" height="5.00" fill="#a0a0a0" stroke="#444" stroke-width="1.0" rx="0.7" />
<text x="0" y="0" transform="translate(573.00 43.80) scale(1.0 1.13)" font-size="9.2" text-anchor="start" font-weight="bold" fill="#000" >HD</text>
<rect x="606.90" y="38.00" width="13.70" height="5.00" fill="#000" stroke="#444" stroke-width="1.0" rx="0.7" />
<text x="0" y="0" transform="translate(629.50 43.80) scale(1.0 1.13)" font-size="9.2" text-anchor="start" font-weight="bold" fill="#000" >HC</text>
<text x="0" y="0" transform="translate(530.50 158.50) scale(1.0 1.13)" font-size="9.2" text-anchor="middle" font-weight="bold" fill="#000" >WT</text>
<text x="0" y="0" transform="translate(593.70 158.50) scale(1.0 1.13)" font-size="9.2" text-anchor="start" font-weight="bold" fill="#000" >TRPV1<tspan font-size="6.8" dy="-3.9">-/-</tspan></text>
<polygon points="530.60,105.40 531.27,107.18 533.17,107.27 531.68,108.45 532.19,110.28 530.60,109.23 529.01,110.28 529.52,108.45 528.03,107.27 529.93,107.18" fill="#111"/>
<polygon points="545.50,73.10 546.17,74.88 548.07,74.97 546.58,76.15 547.09,77.98 545.50,76.93 543.91,77.98 544.42,76.15 542.93,74.97 544.83,74.88" fill="#111"/>
<text x="548.00" y="77.90" font-size="7.4" text-anchor="start" font-weight="bold" fill="#111" font-style="italic">##</text>
<text x="611.20" y="113.10" font-size="6.25" text-anchor="middle" font-family="Liberation Serif, serif" fill="#222" style="font-family:'Liberation Serif', serif">&#916;</text>
<text x="631.70" y="113.50" font-size="6.96" text-anchor="middle" font-family="Liberation Serif, serif" fill="#222" style="font-family:'Liberation Serif', serif">&#916;</text>
<line x1="300.45" y1="238.30" x2="300.45" y2="242.20" stroke="#505050" stroke-width="1.1"/>
<line x1="295.35" y1="238.30" x2="305.55" y2="238.30" stroke="#555" stroke-width="1.45"/>
<rect x="290.90" y="242.70" width="19.10" height="45.60" fill="#fff" stroke="#333" stroke-width="1.0" rx="0" />
<line x1="320.60" y1="248.30" x2="320.60" y2="251.10" stroke="#505050" stroke-width="1.1"/>
<line x1="315.50" y1="248.30" x2="325.70" y2="248.30" stroke="#555" stroke-width="1.45"/>
<rect x="311.00" y="251.60" width="19.20" height="36.70" fill="#a0a0a0" stroke="#333" stroke-width="1.0" rx="0" />
<line x1="341.20" y1="208.30" x2="341.20" y2="214.90" stroke="#505050" stroke-width="1.1"/>
<line x1="336.10" y1="208.30" x2="346.30" y2="208.30" stroke="#555" stroke-width="1.45"/>
<rect x="331.00" y="214.90" width="20.40" height="73.40" fill="#000" stroke="none" stroke-width="0" rx="0" />
<line x1="381.70" y1="235.30" x2="381.70" y2="238.00" stroke="#505050" stroke-width="1.1"/>
<line x1="376.60" y1="235.30" x2="386.80" y2="235.30" stroke="#555" stroke-width="1.45"/>
<rect x="372.10" y="238.50" width="19.20" height="49.80" fill="#fff" stroke="#333" stroke-width="1.0" rx="0" />
<line x1="402.00" y1="251.10" x2="402.00" y2="257.30" stroke="#505050" stroke-width="1.1"/>
<line x1="396.90" y1="251.10" x2="407.10" y2="251.10" stroke="#555" stroke-width="1.45"/>
<rect x="392.30" y="257.80" width="19.40" height="30.50" fill="#a0a0a0" stroke="#333" stroke-width="1.0" rx="0" />
<line x1="422.20" y1="259.50" x2="422.20" y2="267.80" stroke="#505050" stroke-width="1.1"/>
<line x1="417.10" y1="259.50" x2="427.30" y2="259.50" stroke="#555" stroke-width="1.45"/>
<rect x="412.20" y="267.80" width="20.00" height="20.50" fill="#000" stroke="none" stroke-width="0" rx="0" />
<line x1="280.30" y1="180.40" x2="280.30" y2="289.20" stroke="#000" stroke-width="1.7"/>
<line x1="276.10" y1="288.30" x2="280.30" y2="288.30" stroke="#000" stroke-width="1.4"/>
<text x="0" y="0" transform="translate(274.10 292.40) scale(1.0 1.13)" font-size="9.6" text-anchor="end" font-weight="bold" fill="#000" >0.0</text>
<line x1="276.10" y1="261.40" x2="280.30" y2="261.40" stroke="#000" stroke-width="1.4"/>
<text x="0" y="0" transform="translate(274.10 265.50) scale(1.0 1.13)" font-size="9.6" text-anchor="end" font-weight="bold" fill="#000" >0.5</text>
<line x1="276.10" y1="234.50" x2="280.30" y2="234.50" stroke="#000" stroke-width="1.4"/>
<text x="0" y="0" transform="translate(274.10 238.60) scale(1.0 1.13)" font-size="9.6" text-anchor="end" font-weight="bold" fill="#000" >1.0</text>
<line x1="276.10" y1="207.60" x2="280.30" y2="207.60" stroke="#000" stroke-width="1.4"/>
<text x="0" y="0" transform="translate(274.10 211.70) scale(1.0 1.13)" font-size="9.6" text-anchor="end" font-weight="bold" fill="#000" >1.5</text>
<line x1="276.10" y1="180.70" x2="280.30" y2="180.70" stroke="#000" stroke-width="1.4"/>
<text x="0" y="0" transform="translate(274.10 184.80) scale(1.0 1.13)" font-size="9.6" text-anchor="end" font-weight="bold" fill="#000" >2.0</text>
<line x1="279.45" y1="288.30" x2="442.40" y2="288.30" stroke="#000" stroke-width="1.7"/>
<text x="0" y="0" font-size="9.4" font-weight="bold" text-anchor="middle" transform="translate(255.00 235.50) rotate(-90) scale(1 1.12)">Cx43/GAPDH</text>
<rect x="289.70" y="178.80" width="14.10" height="4.30" fill="#fff" stroke="#444" stroke-width="1.0" rx="0.7" />
<text x="0" y="0" transform="translate(312.70 183.90) scale(1.0 1.13)" font-size="9.2" text-anchor="start" font-weight="bold" fill="#000" >ND</text>
<rect x="341.90" y="178.80" width="14.30" height="4.30" fill="#a0a0a0" stroke="#444" stroke-width="1.0" rx="0.7" />
<text x="0" y="0" transform="translate(365.10 183.90) scale(1.0 1.13)" font-size="9.2" text-anchor="start" font-weight="bold" fill="#000" >HD</text>
<rect x="395.50" y="178.80" width="14.40" height="4.30" fill="#000" stroke="#444" stroke-width="1.0" rx="0.7" />
<text x="0" y="0" transform="translate(418.10 183.90) scale(1.0 1.13)" font-size="9.2" text-anchor="start" font-weight="bold" fill="#000" >HC</text>
<text x="0" y="0" transform="translate(320.60 301.80) scale(1.0 1.13)" font-size="9.2" text-anchor="middle" font-weight="bold" fill="#000" >WT</text>
<text x="0" y="0" transform="translate(388.10 301.80) scale(1.0 1.13)" font-size="9.2" text-anchor="start" font-weight="bold" fill="#000" >TRPV1<tspan font-size="6.8" dy="-3.9">-/-</tspan></text>
<polygon points="320.70,240.70 321.37,242.48 323.27,242.57 321.78,243.75 322.29,245.58 320.70,244.53 319.11,245.58 319.62,243.75 318.13,242.57 320.03,242.48" fill="#111"/>
<polygon points="338.00,199.60 338.67,201.38 340.57,201.47 339.08,202.65 339.59,204.48 338.00,203.43 336.41,204.48 336.92,202.65 335.43,201.47 337.33,201.38" fill="#111"/>
<text x="341.30" y="204.50" font-size="7.4" text-anchor="start" font-weight="bold" fill="#111" font-style="italic">##</text>
<text x="402.00" y="248.30" font-size="7.32" text-anchor="middle" font-family="Liberation Serif, serif" fill="#222" style="font-family:'Liberation Serif', serif">&#916;</text>
<text x="422.20" y="256.30" font-size="7.50" text-anchor="middle" font-family="Liberation Serif, serif" fill="#222" style="font-family:'Liberation Serif', serif">&#916;</text>
<line x1="510.30" y1="229.40" x2="510.30" y2="236.30" stroke="#505050" stroke-width="1.1"/>
<line x1="505.20" y1="229.40" x2="515.40" y2="229.40" stroke="#555" stroke-width="1.45"/>
<rect x="500.90" y="236.80" width="18.80" height="52.90" fill="#fff" stroke="#333" stroke-width="1.0" rx="0" />
<line x1="530.35" y1="240.90" x2="530.35" y2="243.90" stroke="#505050" stroke-width="1.1"/>
<line x1="525.25" y1="240.90" x2="535.45" y2="240.90" stroke="#555" stroke-width="1.45"/>
<rect x="520.80" y="244.40" width="19.10" height="45.30" fill="#a0a0a0" stroke="#333" stroke-width="1.0" rx="0" />
<line x1="550.80" y1="204.90" x2="550.80" y2="210.80" stroke="#505050" stroke-width="1.1"/>
<line x1="545.70" y1="204.90" x2="555.90" y2="204.90" stroke="#555" stroke-width="1.45"/>
<rect x="540.60" y="210.80" width="20.40" height="78.90" fill="#000" stroke="none" stroke-width="0" rx="0" />
<line x1="591.35" y1="216.00" x2="591.35" y2="228.30" stroke="#505050" stroke-width="1.1"/>
<line x1="586.25" y1="216.00" x2="596.45" y2="216.00" stroke="#555" stroke-width="1.45"/>
<rect x="581.80" y="228.80" width="19.10" height="60.90" fill="#fff" stroke="#333" stroke-width="1.0" rx="0" />
<line x1="611.35" y1="248.70" x2="611.35" y2="254.30" stroke="#505050" stroke-width="1.1"/>
<line x1="606.25" y1="248.70" x2="616.45" y2="248.70" stroke="#555" stroke-width="1.45"/>
<rect x="601.90" y="254.80" width="18.90" height="34.90" fill="#a0a0a0" stroke="#333" stroke-width="1.0" rx="0" />
<line x1="631.55" y1="250.40" x2="631.55" y2="263.60" stroke="#505050" stroke-width="1.1"/>
<line x1="626.45" y1="250.40" x2="636.65" y2="250.40" stroke="#555" stroke-width="1.45"/>
<rect x="621.30" y="263.60" width="20.50" height="26.10" fill="#000" stroke="none" stroke-width="0" rx="0" />
<line x1="490.00" y1="181.55" x2="490.00" y2="290.60" stroke="#000" stroke-width="1.7"/>
<line x1="485.80" y1="289.70" x2="490.00" y2="289.70" stroke="#000" stroke-width="1.4"/>
<text x="0" y="0" transform="translate(483.80 293.80) scale(1.0 1.13)" font-size="9.6" text-anchor="end" font-weight="bold" fill="#000" >0.0</text>
<line x1="485.80" y1="253.75" x2="490.00" y2="253.75" stroke="#000" stroke-width="1.4"/>
<text x="0" y="0" transform="translate(483.80 257.85) scale(1.0 1.13)" font-size="9.6" text-anchor="end" font-weight="bold" fill="#000" >0.5</text>
<line x1="485.80" y1="217.80" x2="490.00" y2="217.80" stroke="#000" stroke-width="1.4"/>
<text x="0" y="0" transform="translate(483.80 221.90) scale(1.0 1.13)" font-size="9.6" text-anchor="end" font-weight="bold" fill="#000" >1.0</text>
<line x1="485.80" y1="181.85" x2="490.00" y2="181.85" stroke="#000" stroke-width="1.4"/>
<text x="0" y="0" transform="translate(483.80 185.95) scale(1.0 1.13)" font-size="9.6" text-anchor="end" font-weight="bold" fill="#000" >1.5</text>
<line x1="489.15" y1="289.70" x2="652.40" y2="289.70" stroke="#000" stroke-width="1.7"/>
<text x="0" y="0" font-size="9.4" font-weight="bold" text-anchor="middle" transform="translate(464.20 236.40) rotate(-90) scale(1 1.12)">CaMKII/GAPDH</text>
<rect x="497.50" y="180.40" width="15.00" height="4.80" fill="#fff" stroke="#444" stroke-width="1.0" rx="0.7" />
<text x="0" y="0" transform="translate(520.60 186.00) scale(1.0 1.13)" font-size="9.2" text-anchor="start" font-weight="bold" fill="#000" >ND</text>
<rect x="549.60" y="180.40" width="14.50" height="4.80" fill="#a0a0a0" stroke="#444" stroke-width="1.0" rx="0.7" />
<text x="0" y="0" transform="translate(573.00 186.00) scale(1.0 1.13)" font-size="9.2" text-anchor="start" font-weight="bold" fill="#000" >HD</text>
<rect x="604.50" y="180.40" width="14.40" height="4.80" fill="#000" stroke="#444" stroke-width="1.0" rx="0.7" />
<text x="0" y="0" transform="translate(627.40 186.00) scale(1.0 1.13)" font-size="9.2" text-anchor="start" font-weight="bold" fill="#000" >HC</text>
<text x="0" y="0" transform="translate(528.80 302.70) scale(1.0 1.13)" font-size="9.2" text-anchor="middle" font-weight="bold" fill="#000" >WT</text>
<text x="0" y="0" transform="translate(598.10 302.70) scale(1.0 1.13)" font-size="9.2" text-anchor="start" font-weight="bold" fill="#000" >TRPV1<tspan font-size="6.8" dy="-3.9">-/-</tspan></text>
<polygon points="530.60,233.30 531.27,235.08 533.17,235.17 531.68,236.35 532.19,238.18 530.60,237.13 529.01,238.18 529.52,236.35 528.03,235.17 529.93,235.08" fill="#111"/>
<polygon points="546.20,196.30 546.87,198.08 548.77,198.17 547.28,199.35 547.79,201.18 546.20,200.13 544.61,201.18 545.12,199.35 543.63,198.17 545.53,198.08" fill="#111"/>
<text x="549.00" y="201.50" font-size="7.4" text-anchor="start" font-weight="bold" fill="#111" font-style="italic">##</text>
<text x="611.60" y="245.80" font-size="7.50" text-anchor="middle" font-family="Liberation Serif, serif" fill="#222" style="font-family:'Liberation Serif', serif">&#916;</text>
<text x="631.60" y="247.50" font-size="7.50" text-anchor="middle" font-family="Liberation Serif, serif" fill="#222" style="font-family:'Liberation Serif', serif">&#916;</text>
<line x1="301.55" y1="365.90" x2="301.55" y2="371.30" stroke="#505050" stroke-width="1.1"/>
<line x1="296.45" y1="365.90" x2="306.65" y2="365.90" stroke="#555" stroke-width="1.45"/>
<rect x="291.70" y="371.80" width="19.70" height="59.40" fill="#fff" stroke="#333" stroke-width="1.0" rx="0" />
<line x1="321.75" y1="376.30" x2="321.75" y2="383.40" stroke="#505050" stroke-width="1.1"/>
<line x1="316.65" y1="376.30" x2="326.85" y2="376.30" stroke="#555" stroke-width="1.45"/>
<rect x="312.40" y="383.90" width="18.70" height="47.30" fill="#a0a0a0" stroke="#333" stroke-width="1.0" rx="0" />
<line x1="341.90" y1="345.50" x2="341.90" y2="349.20" stroke="#505050" stroke-width="1.1"/>
<line x1="336.80" y1="345.50" x2="347.00" y2="345.50" stroke="#555" stroke-width="1.45"/>
<rect x="331.90" y="349.20" width="20.00" height="82.00" fill="#000" stroke="none" stroke-width="0" rx="0" />
<line x1="382.20" y1="361.80" x2="382.20" y2="368.80" stroke="#505050" stroke-width="1.1"/>
<line x1="377.10" y1="361.80" x2="387.30" y2="361.80" stroke="#555" stroke-width="1.45"/>
<rect x="372.60" y="369.30" width="19.20" height="61.90" fill="#fff" stroke="#333" stroke-width="1.0" rx="0" />
<line x1="402.25" y1="398.70" x2="402.25" y2="409.50" stroke="#505050" stroke-width="1.1"/>
<line x1="397.15" y1="398.70" x2="407.35" y2="398.70" stroke="#555" stroke-width="1.45"/>
<rect x="392.80" y="410.00" width="18.90" height="21.20" fill="#a0a0a0" stroke="#333" stroke-width="1.0" rx="0" />
<line x1="422.30" y1="392.50" x2="422.30" y2="407.80" stroke="#505050" stroke-width="1.1"/>
<line x1="417.20" y1="392.50" x2="427.40" y2="392.50" stroke="#555" stroke-width="1.45"/>
<rect x="412.20" y="407.80" width="20.20" height="23.40" fill="#000" stroke="none" stroke-width="0" rx="0" />
<line x1="281.50" y1="322.90" x2="281.50" y2="432.10" stroke="#000" stroke-width="1.7"/>
<line x1="277.30" y1="431.20" x2="281.50" y2="431.20" stroke="#000" stroke-width="1.4"/>
<text x="0" y="0" transform="translate(275.30 435.30) scale(1.0 1.13)" font-size="9.6" text-anchor="end" font-weight="bold" fill="#000" >0.0</text>
<line x1="277.30" y1="395.20" x2="281.50" y2="395.20" stroke="#000" stroke-width="1.4"/>
<text x="0" y="0" transform="translate(275.30 399.30) scale(1.0 1.13)" font-size="9.6" text-anchor="end" font-weight="bold" fill="#000" >0.5</text>
<line x1="277.30" y1="359.20" x2="281.50" y2="359.20" stroke="#000" stroke-width="1.4"/>
<text x="0" y="0" transform="translate(275.30 363.30) scale(1.0 1.13)" font-size="9.6" text-anchor="end" font-weight="bold" fill="#000" >1.0</text>
<line x1="277.30" y1="323.20" x2="281.50" y2="323.20" stroke="#000" stroke-width="1.4"/>
<text x="0" y="0" transform="translate(275.30 327.30) scale(1.0 1.13)" font-size="9.6" text-anchor="end" font-weight="bold" fill="#000" >1.5</text>
<line x1="280.65" y1="431.20" x2="442.40" y2="431.20" stroke="#000" stroke-width="1.7"/>
<text x="0" y="0" font-size="9.4" font-weight="bold" text-anchor="middle" transform="translate(256.70 377.20) rotate(-90) scale(1 1.12)">PPAR&#948;/GAPDH</text>
<rect x="291.70" y="322.70" width="14.10" height="4.70" fill="#fff" stroke="#444" stroke-width="1.0" rx="0.7" />
<text x="0" y="0" transform="translate(314.70 328.20) scale(1.0 1.13)" font-size="9.2" text-anchor="start" font-weight="bold" fill="#000" >ND</text>
<rect x="341.90" y="322.70" width="13.90" height="4.70" fill="#a0a0a0" stroke="#444" stroke-width="1.0" rx="0.7" />
<text x="0" y="0" transform="translate(364.80 328.20) scale(1.0 1.13)" font-size="9.2" text-anchor="start" font-weight="bold" fill="#000" >HD</text>
<rect x="395.10" y="322.70" width="13.40" height="4.70" fill="#000" stroke="#444" stroke-width="1.0" rx="0.7" />
<text x="0" y="0" transform="translate(417.80 328.20) scale(1.0 1.13)" font-size="9.2" text-anchor="start" font-weight="bold" fill="#000" >HC</text>
<text x="0" y="0" transform="translate(321.40 444.30) scale(1.0 1.13)" font-size="9.2" text-anchor="middle" font-weight="bold" fill="#000" >WT</text>
<text x="0" y="0" transform="translate(388.10 444.30) scale(1.0 1.13)" font-size="9.2" text-anchor="start" font-weight="bold" fill="#000" >TRPV1<tspan font-size="6.8" dy="-3.9">-/-</tspan></text>
<polygon points="322.00,366.30 322.67,368.08 324.57,368.17 323.08,369.35 323.59,371.18 322.00,370.13 320.41,371.18 320.92,369.35 319.43,368.17 321.33,368.08" fill="#111"/>
<polygon points="338.00,337.30 338.67,339.08 340.57,339.17 339.08,340.35 339.59,342.18 338.00,341.13 336.41,342.18 336.92,340.35 335.43,339.17 337.33,339.08" fill="#111"/>
<text x="341.50" y="342.50" font-size="7.4" text-anchor="start" font-weight="bold" fill="#111" font-style="italic">##</text>
<text x="402.50" y="396.70" font-size="7.32" text-anchor="middle" font-family="Liberation Serif, serif" fill="#222" style="font-family:'Liberation Serif', serif">&#916;</text>
<text x="422.70" y="390.20" font-size="7.68" text-anchor="middle" font-family="Liberation Serif, serif" fill="#222" style="font-family:'Liberation Serif', serif">&#916;</text>
<line x1="510.30" y1="383.00" x2="510.30" y2="386.10" stroke="#505050" stroke-width="1.1"/>
<line x1="505.20" y1="383.00" x2="515.40" y2="383.00" stroke="#555" stroke-width="1.45"/>
<rect x="500.90" y="386.60" width="18.80" height="44.30" fill="#fff" stroke="#333" stroke-width="1.0" rx="0" />
<line x1="530.35" y1="392.60" x2="530.35" y2="395.30" stroke="#505050" stroke-width="1.1"/>
<line x1="525.25" y1="392.60" x2="535.45" y2="392.60" stroke="#555" stroke-width="1.45"/>
<rect x="520.80" y="395.80" width="19.10" height="35.10" fill="#a0a0a0" stroke="#333" stroke-width="1.0" rx="0" />
<line x1="550.80" y1="357.20" x2="550.80" y2="363.40" stroke="#505050" stroke-width="1.1"/>
<line x1="545.70" y1="357.20" x2="555.90" y2="357.20" stroke="#555" stroke-width="1.45"/>
<rect x="540.60" y="363.40" width="20.40" height="67.50" fill="#000" stroke="none" stroke-width="0" rx="0" />
<line x1="591.35" y1="372.30" x2="591.35" y2="377.60" stroke="#505050" stroke-width="1.1"/>
<line x1="586.25" y1="372.30" x2="596.45" y2="372.30" stroke="#555" stroke-width="1.45"/>
<rect x="581.80" y="378.10" width="19.10" height="52.80" fill="#fff" stroke="#333" stroke-width="1.0" rx="0" />
<line x1="611.35" y1="406.60" x2="611.35" y2="408.70" stroke="#505050" stroke-width="1.1"/>
<line x1="606.25" y1="406.60" x2="616.45" y2="406.60" stroke="#555" stroke-width="1.45"/>
<rect x="601.90" y="409.20" width="18.90" height="21.70" fill="#a0a0a0" stroke="#333" stroke-width="1.0" rx="0" />
<line x1="631.55" y1="404.50" x2="631.55" y2="411.30" stroke="#505050" stroke-width="1.1"/>
<line x1="626.45" y1="404.50" x2="636.65" y2="404.50" stroke="#555" stroke-width="1.45"/>
<rect x="621.30" y="411.30" width="20.50" height="19.60" fill="#000" stroke="none" stroke-width="0" rx="0" />
<line x1="490.00" y1="322.80" x2="490.00" y2="431.80" stroke="#000" stroke-width="1.7"/>
<line x1="485.80" y1="430.90" x2="490.00" y2="430.90" stroke="#000" stroke-width="1.4"/>
<text x="0" y="0" transform="translate(483.80 435.00) scale(1.0 1.13)" font-size="9.6" text-anchor="end" font-weight="bold" fill="#000" >0.0</text>
<line x1="485.80" y1="403.95" x2="490.00" y2="403.95" stroke="#000" stroke-width="1.4"/>
<text x="0" y="0" transform="translate(483.80 408.05) scale(1.0 1.13)" font-size="9.6" text-anchor="end" font-weight="bold" fill="#000" >0.5</text>
<line x1="485.80" y1="377.00" x2="490.00" y2="377.00" stroke="#000" stroke-width="1.4"/>
<text x="0" y="0" transform="translate(483.80 381.10) scale(1.0 1.13)" font-size="9.6" text-anchor="end" font-weight="bold" fill="#000" >1.0</text>
<line x1="485.80" y1="350.05" x2="490.00" y2="350.05" stroke="#000" stroke-width="1.4"/>
<text x="0" y="0" transform="translate(483.80 354.15) scale(1.0 1.13)" font-size="9.6" text-anchor="end" font-weight="bold" fill="#000" >1.5</text>
<line x1="485.80" y1="323.10" x2="490.00" y2="323.10" stroke="#000" stroke-width="1.4"/>
<text x="0" y="0" transform="translate(483.80 327.20) scale(1.0 1.13)" font-size="9.6" text-anchor="end" font-weight="bold" fill="#000" >2.0</text>
<line x1="489.15" y1="430.90" x2="652.40" y2="430.90" stroke="#000" stroke-width="1.7"/>
<text x="0" y="0" font-size="9.4" font-weight="bold" text-anchor="middle" transform="translate(464.20 377.20) rotate(-90) scale(1 1.12)">HSL/GAPDH</text>
<rect x="500.60" y="321.30" width="13.60" height="5.20" fill="#fff" stroke="#444" stroke-width="1.0" rx="0.7" />
<text x="0" y="0" transform="translate(523.60 327.30) scale(1.0 1.13)" font-size="9.2" text-anchor="start" font-weight="bold" fill="#000" >ND</text>
<rect x="550.20" y="321.30" width="14.80" height="5.20" fill="#a0a0a0" stroke="#444" stroke-width="1.0" rx="0.7" />
<text x="0" y="0" transform="translate(573.70 327.30) scale(1.0 1.13)" font-size="9.2" text-anchor="start" font-weight="bold" fill="#000" >HD</text>
<rect x="604.50" y="321.30" width="14.40" height="5.20" fill="#000" stroke="#444" stroke-width="1.0" rx="0.7" />
<text x="0" y="0" transform="translate(627.40 327.30) scale(1.0 1.13)" font-size="9.2" text-anchor="start" font-weight="bold" fill="#000" >HC</text>
<text x="0" y="0" transform="translate(530.30 444.30) scale(1.0 1.13)" font-size="9.2" text-anchor="middle" font-weight="bold" fill="#000" >WT</text>
<text x="0" y="0" transform="translate(598.10 444.30) scale(1.0 1.13)" font-size="9.2" text-anchor="start" font-weight="bold" fill="#000" >TRPV1<tspan font-size="6.8" dy="-3.9">-/-</tspan></text>
<polygon points="531.50,385.00 532.17,386.78 534.07,386.87 532.58,388.05 533.09,389.88 531.50,388.83 529.91,389.88 530.42,388.05 528.93,386.87 530.83,386.78" fill="#111"/>
<polygon points="547.00,349.70 547.67,351.48 549.57,351.57 548.08,352.75 548.59,354.58 547.00,353.53 545.41,354.58 545.92,352.75 544.43,351.57 546.33,351.48" fill="#111"/>
<text x="550.00" y="354.80" font-size="7.4" text-anchor="start" font-weight="bold" fill="#111" font-style="italic">##</text>
<text x="612.50" y="404.20" font-size="7.68" text-anchor="middle" font-family="Liberation Serif, serif" fill="#222" style="font-family:'Liberation Serif', serif">&#916;</text>
<text x="631.60" y="400.20" font-size="8.21" text-anchor="middle" font-family="Liberation Serif, serif" fill="#222" style="font-family:'Liberation Serif', serif">&#916;</text>
<line x1="298.70" y1="518.60" x2="298.70" y2="523.40" stroke="#505050" stroke-width="1.1"/>
<line x1="293.60" y1="518.60" x2="303.80" y2="518.60" stroke="#555" stroke-width="1.45"/>
<rect x="289.00" y="523.90" width="19.40" height="74.80" fill="#fff" stroke="#333" stroke-width="1.0" rx="0" />
<line x1="318.75" y1="551.60" x2="318.75" y2="556.60" stroke="#505050" stroke-width="1.1"/>
<line x1="313.65" y1="551.60" x2="323.85" y2="551.60" stroke="#555" stroke-width="1.45"/>
<rect x="309.40" y="557.10" width="18.70" height="41.60" fill="#a0a0a0" stroke="#333" stroke-width="1.0" rx="0" />
<line x1="338.95" y1="528.00" x2="338.95" y2="535.20" stroke="#505050" stroke-width="1.1"/>
<line x1="333.85" y1="528.00" x2="344.05" y2="528.00" stroke="#555" stroke-width="1.45"/>
<rect x="328.90" y="535.20" width="20.10" height="63.50" fill="#000" stroke="none" stroke-width="0" rx="0" />
<line x1="379.60" y1="524.40" x2="379.60" y2="529.70" stroke="#505050" stroke-width="1.1"/>
<line x1="374.50" y1="524.40" x2="384.70" y2="524.40" stroke="#555" stroke-width="1.45"/>
<rect x="370.00" y="530.20" width="19.20" height="68.50" fill="#fff" stroke="#333" stroke-width="1.0" rx="0" />
<line x1="399.80" y1="562.00" x2="399.80" y2="563.90" stroke="#505050" stroke-width="1.1"/>
<line x1="394.70" y1="562.00" x2="404.90" y2="562.00" stroke="#555" stroke-width="1.45"/>
<rect x="390.20" y="564.40" width="19.20" height="34.30" fill="#a0a0a0" stroke="#333" stroke-width="1.0" rx="0" />
<line x1="420.00" y1="527.80" x2="420.00" y2="537.10" stroke="#505050" stroke-width="1.1"/>
<line x1="414.90" y1="527.80" x2="425.10" y2="527.80" stroke="#555" stroke-width="1.45"/>
<rect x="409.90" y="537.10" width="20.20" height="61.60" fill="#000" stroke="none" stroke-width="0" rx="0" />
<line x1="278.00" y1="492.20" x2="278.00" y2="599.60" stroke="#000" stroke-width="1.7"/>
<line x1="273.80" y1="598.70" x2="278.00" y2="598.70" stroke="#000" stroke-width="1.4"/>
<text x="0" y="0" transform="translate(271.80 602.80) scale(1.0 1.13)" font-size="9.6" text-anchor="end" font-weight="bold" fill="#000" >0.0</text>
<line x1="273.80" y1="563.30" x2="278.00" y2="563.30" stroke="#000" stroke-width="1.4"/>
<text x="0" y="0" transform="translate(271.80 567.40) scale(1.0 1.13)" font-size="9.6" text-anchor="end" font-weight="bold" fill="#000" >0.5</text>
<line x1="273.80" y1="527.90" x2="278.00" y2="527.90" stroke="#000" stroke-width="1.4"/>
<text x="0" y="0" transform="translate(271.80 532.00) scale(1.0 1.13)" font-size="9.6" text-anchor="end" font-weight="bold" fill="#000" >1.0</text>
<line x1="273.80" y1="492.50" x2="278.00" y2="492.50" stroke="#000" stroke-width="1.4"/>
<text x="0" y="0" transform="translate(271.80 496.60) scale(1.0 1.13)" font-size="9.6" text-anchor="end" font-weight="bold" fill="#000" >1.5</text>
<line x1="277.15" y1="598.70" x2="440.30" y2="598.70" stroke="#000" stroke-width="1.7"/>
<text x="0" y="0" font-size="9.4" font-weight="bold" text-anchor="middle" transform="translate(254.70 546.00) rotate(-90) scale(1 1.12)">TRPV1/GAPDH</text>
<text x="0" y="0" transform="translate(322.90 499.20) scale(1.0 1.13)" font-size="9.6" text-anchor="middle" font-weight="bold" fill="#000" >Human</text>
<line x1="293.50" y1="501.90" x2="347.20" y2="501.90" stroke="#222" stroke-width="1.5"/>
<text x="0" y="0" transform="translate(401.50 499.70) scale(1.0 1.13)" font-size="9.6" text-anchor="middle" font-weight="bold" fill="#000" >M<tspan dx="1.3">ice</tspan></text>
<line x1="372.10" y1="502.00" x2="426.20" y2="502.00" stroke="#222" stroke-width="1.5"/>
<polygon points="318.80,543.05 319.53,545.00 321.61,545.09 319.98,546.38 320.53,548.39 318.80,547.24 317.07,548.39 317.62,546.38 315.99,545.09 318.07,545.00" fill="#111"/>
<text x="336.40" y="524.00" font-size="8.4" text-anchor="start" font-weight="bold" fill="#222" >#</text>
<polygon points="398.80,555.35 397.29,558.05 400.31,558.05" fill="none" stroke="#555" stroke-width="1.0" stroke-linejoin="round"/>
<polygon points="420.40,520.40 417.70,524.80 423.10,524.80" fill="#111"/>
<text x="296.30" y="606.10" font-size="9.2" font-weight="bold" text-anchor="end" transform="rotate(-45 296.30 606.10) translate(296.30 606.10) scale(1 1.13) translate(-296.30 -606.10)">lean</text>
<text x="323.06" y="606.10" font-size="9.2" font-weight="bold" text-anchor="end" transform="rotate(-45 323.06 606.10) translate(323.06 606.10) scale(1 1.13) translate(-323.06 -606.10)">obese</text>
<text x="349.82" y="606.10" font-size="9.2" font-weight="bold" text-anchor="end" transform="rotate(-45 349.82 606.10) translate(349.82 606.10) scale(1 1.13) translate(-349.82 -606.10)">obese +Cap</text>
<text x="376.58" y="606.10" font-size="9.2" font-weight="bold" text-anchor="end" transform="rotate(-45 376.58 606.10) translate(376.58 606.10) scale(1 1.13) translate(-376.58 -606.10)">WT</text>
<text x="403.34" y="606.10" font-size="9.2" font-weight="bold" text-anchor="end" transform="rotate(-45 403.34 606.10) translate(403.34 606.10) scale(1 1.13) translate(-403.34 -606.10)">db/db ND</text>
<text x="430.10" y="606.10" font-size="9.2" font-weight="bold" text-anchor="end" transform="rotate(-45 430.10 606.10) translate(430.10 606.10) scale(1 1.13) translate(-430.10 -606.10)">db/db NC</text>
<line x1="508.60" y1="524.20" x2="508.60" y2="529.30" stroke="#505050" stroke-width="1.1"/>
<line x1="503.50" y1="524.20" x2="513.70" y2="524.20" stroke="#555" stroke-width="1.45"/>
<rect x="499.00" y="529.80" width="19.20" height="71.00" fill="#fff" stroke="#333" stroke-width="1.0" rx="0" />
<line x1="528.70" y1="548.50" x2="528.70" y2="553.30" stroke="#505050" stroke-width="1.1"/>
<line x1="523.60" y1="548.50" x2="533.80" y2="548.50" stroke="#555" stroke-width="1.45"/>
<rect x="519.50" y="553.80" width="18.40" height="47.00" fill="#a0a0a0" stroke="#333" stroke-width="1.0" rx="0" />
<line x1="548.95" y1="524.50" x2="548.95" y2="532.20" stroke="#505050" stroke-width="1.1"/>
<line x1="543.85" y1="524.50" x2="554.05" y2="524.50" stroke="#555" stroke-width="1.45"/>
<rect x="538.90" y="532.20" width="20.10" height="68.60" fill="#000" stroke="none" stroke-width="0" rx="0" />
<line x1="589.60" y1="530.90" x2="589.60" y2="537.10" stroke="#505050" stroke-width="1.1"/>
<line x1="584.50" y1="530.90" x2="594.70" y2="530.90" stroke="#555" stroke-width="1.45"/>
<rect x="580.00" y="537.60" width="19.20" height="63.20" fill="#fff" stroke="#333" stroke-width="1.0" rx="0" />
<line x1="609.80" y1="562.50" x2="609.80" y2="566.00" stroke="#505050" stroke-width="1.1"/>
<line x1="604.70" y1="562.50" x2="614.90" y2="562.50" stroke="#555" stroke-width="1.45"/>
<rect x="600.20" y="566.50" width="19.20" height="34.30" fill="#a0a0a0" stroke="#333" stroke-width="1.0" rx="0" />
<line x1="630.00" y1="536.70" x2="630.00" y2="544.10" stroke="#505050" stroke-width="1.1"/>
<line x1="624.90" y1="536.70" x2="635.10" y2="536.70" stroke="#555" stroke-width="1.45"/>
<rect x="619.90" y="544.10" width="20.20" height="56.70" fill="#000" stroke="none" stroke-width="0" rx="0" />
<line x1="488.20" y1="493.70" x2="488.20" y2="601.70" stroke="#000" stroke-width="1.7"/>
<line x1="484.00" y1="600.80" x2="488.20" y2="600.80" stroke="#000" stroke-width="1.4"/>
<text x="0" y="0" transform="translate(482.00 604.90) scale(1.0 1.13)" font-size="9.6" text-anchor="end" font-weight="bold" fill="#000" >0.0</text>
<line x1="484.00" y1="565.20" x2="488.20" y2="565.20" stroke="#000" stroke-width="1.4"/>
<text x="0" y="0" transform="translate(482.00 569.30) scale(1.0 1.13)" font-size="9.6" text-anchor="end" font-weight="bold" fill="#000" >0.5</text>
<line x1="484.00" y1="529.60" x2="488.20" y2="529.60" stroke="#000" stroke-width="1.4"/>
<text x="0" y="0" transform="translate(482.00 533.70) scale(1.0 1.13)" font-size="9.6" text-anchor="end" font-weight="bold" fill="#000" >1.0</text>
<line x1="484.00" y1="494.00" x2="488.20" y2="494.00" stroke="#000" stroke-width="1.4"/>
<text x="0" y="0" transform="translate(482.00 498.10) scale(1.0 1.13)" font-size="9.6" text-anchor="end" font-weight="bold" fill="#000" >1.5</text>
<line x1="487.35" y1="600.80" x2="650.60" y2="600.80" stroke="#000" stroke-width="1.7"/>
<text x="0" y="0" font-size="9.4" font-weight="bold" text-anchor="middle" transform="translate(465.50 548.00) rotate(-90) scale(1 1.12)">p-CaM/GAPDH</text>
<text x="0" y="0" transform="translate(530.30 500.60) scale(1.0 1.13)" font-size="9.6" text-anchor="middle" font-weight="bold" fill="#000" >Human</text>
<line x1="501.90" y1="502.80" x2="556.70" y2="502.80" stroke="#222" stroke-width="1.5"/>
<text x="0" y="0" transform="translate(612.20 500.60) scale(1.0 1.13)" font-size="9.6" text-anchor="middle" font-weight="bold" fill="#000" >M<tspan dx="1.3">ice</tspan></text>
<line x1="583.50" y1="502.80" x2="638.00" y2="502.80" stroke="#222" stroke-width="1.5"/>
<polygon points="528.60,541.05 529.33,543.00 531.41,543.09 529.78,544.38 530.33,546.39 528.60,545.24 526.87,546.39 527.42,544.38 525.79,543.09 527.87,543.00" fill="#111"/>
<text x="546.50" y="520.70" font-size="8.4" text-anchor="start" font-weight="bold" fill="#222" >#</text>
<polygon points="609.30,555.98 607.49,559.22 611.11,559.22" fill="none" stroke="#555" stroke-width="1.0" stroke-linejoin="round"/>
<polygon points="630.40,529.20 627.70,533.20 633.10,533.20" fill="#111"/>
<text x="505.00" y="608.50" font-size="9.2" font-weight="bold" text-anchor="end" transform="rotate(-45 505.00 608.50) translate(505.00 608.50) scale(1 1.13) translate(-505.00 -608.50)">lean</text>
<text x="531.66" y="608.50" font-size="9.2" font-weight="bold" text-anchor="end" transform="rotate(-45 531.66 608.50) translate(531.66 608.50) scale(1 1.13) translate(-531.66 -608.50)">obese</text>
<text x="558.32" y="608.50" font-size="9.2" font-weight="bold" text-anchor="end" transform="rotate(-45 558.32 608.50) translate(558.32 608.50) scale(1 1.13) translate(-558.32 -608.50)">obese +Cap</text>
<text x="584.98" y="608.50" font-size="9.2" font-weight="bold" text-anchor="end" transform="rotate(-45 584.98 608.50) translate(584.98 608.50) scale(1 1.13) translate(-584.98 -608.50)">WT</text>
<text x="611.64" y="608.50" font-size="9.2" font-weight="bold" text-anchor="end" transform="rotate(-45 611.64 608.50) translate(611.64 608.50) scale(1 1.13) translate(-611.64 -608.50)">db/db NC</text>
<text x="638.30" y="608.50" font-size="9.2" font-weight="bold" text-anchor="end" transform="rotate(-45 638.30 608.50) translate(638.30 608.50) scale(1 1.13) translate(-638.30 -608.50)">db/db ND</text>
<line x1="298.25" y1="695.40" x2="298.25" y2="700.50" stroke="#505050" stroke-width="1.1"/>
<line x1="293.15" y1="695.40" x2="303.35" y2="695.40" stroke="#555" stroke-width="1.45"/>
<rect x="288.50" y="701.00" width="19.50" height="70.60" fill="#fff" stroke="#333" stroke-width="1.0" rx="0" />
<line x1="318.35" y1="728.50" x2="318.35" y2="733.40" stroke="#505050" stroke-width="1.1"/>
<line x1="313.25" y1="728.50" x2="323.45" y2="728.50" stroke="#555" stroke-width="1.45"/>
<rect x="309.00" y="733.90" width="18.70" height="37.70" fill="#a0a0a0" stroke="#333" stroke-width="1.0" rx="0" />
<line x1="338.70" y1="708.60" x2="338.70" y2="713.10" stroke="#505050" stroke-width="1.1"/>
<line x1="333.60" y1="708.60" x2="343.80" y2="708.60" stroke="#555" stroke-width="1.45"/>
<rect x="328.60" y="713.10" width="20.20" height="58.50" fill="#000" stroke="none" stroke-width="0" rx="0" />
<line x1="379.60" y1="710.00" x2="379.60" y2="714.60" stroke="#505050" stroke-width="1.1"/>
<line x1="374.50" y1="710.00" x2="384.70" y2="710.00" stroke="#555" stroke-width="1.45"/>
<rect x="370.00" y="715.10" width="19.20" height="56.50" fill="#fff" stroke="#333" stroke-width="1.0" rx="0" />
<line x1="399.80" y1="737.30" x2="399.80" y2="740.80" stroke="#505050" stroke-width="1.1"/>
<line x1="394.70" y1="737.30" x2="404.90" y2="737.30" stroke="#555" stroke-width="1.45"/>
<rect x="390.20" y="741.30" width="19.20" height="30.30" fill="#a0a0a0" stroke="#333" stroke-width="1.0" rx="0" />
<line x1="420.00" y1="720.20" x2="420.00" y2="724.60" stroke="#505050" stroke-width="1.1"/>
<line x1="414.90" y1="720.20" x2="425.10" y2="720.20" stroke="#555" stroke-width="1.45"/>
<rect x="409.90" y="724.60" width="20.20" height="47.00" fill="#000" stroke="none" stroke-width="0" rx="0" />
<line x1="277.40" y1="664.80" x2="277.40" y2="772.50" stroke="#000" stroke-width="1.7"/>
<line x1="273.20" y1="771.60" x2="277.40" y2="771.60" stroke="#000" stroke-width="1.4"/>
<text x="0" y="0" transform="translate(271.20 775.70) scale(1.0 1.13)" font-size="9.6" text-anchor="end" font-weight="bold" fill="#000" >0.0</text>
<line x1="273.20" y1="736.10" x2="277.40" y2="736.10" stroke="#000" stroke-width="1.4"/>
<text x="0" y="0" transform="translate(271.20 740.20) scale(1.0 1.13)" font-size="9.6" text-anchor="end" font-weight="bold" fill="#000" >0.5</text>
<line x1="273.20" y1="700.60" x2="277.40" y2="700.60" stroke="#000" stroke-width="1.4"/>
<text x="0" y="0" transform="translate(271.20 704.70) scale(1.0 1.13)" font-size="9.6" text-anchor="end" font-weight="bold" fill="#000" >1.0</text>
<line x1="273.20" y1="665.10" x2="277.40" y2="665.10" stroke="#000" stroke-width="1.4"/>
<text x="0" y="0" transform="translate(271.20 669.20) scale(1.0 1.13)" font-size="9.6" text-anchor="end" font-weight="bold" fill="#000" >1.5</text>
<line x1="276.55" y1="771.60" x2="440.60" y2="771.60" stroke="#000" stroke-width="1.7"/>
<text x="0" y="0" font-size="9.4" font-weight="bold" text-anchor="middle" transform="translate(255.00 719.00) rotate(-90) scale(1 1.12)">Cx43/GAPDH</text>
<text x="0" y="0" transform="translate(318.30 671.80) scale(1.0 1.13)" font-size="9.6" text-anchor="middle" font-weight="bold" fill="#000" >Human</text>
<line x1="292.30" y1="674.80" x2="345.40" y2="674.80" stroke="#222" stroke-width="1.5"/>
<text x="0" y="0" transform="translate(402.80 672.40) scale(1.0 1.13)" font-size="9.6" text-anchor="middle" font-weight="bold" fill="#000" >M<tspan dx="1.3">ice</tspan></text>
<line x1="374.80" y1="674.90" x2="428.00" y2="674.90" stroke="#222" stroke-width="1.5"/>
<polygon points="319.20,719.45 319.93,721.40 322.01,721.49 320.38,722.78 320.93,724.79 319.20,723.64 317.47,724.79 318.02,722.78 316.39,721.49 318.47,721.40" fill="#111"/>
<text x="336.40" y="704.30" font-size="8.4" text-anchor="start" font-weight="bold" fill="#222" >#</text>
<polygon points="398.50,729.17 396.74,732.33 400.26,732.33" fill="none" stroke="#555" stroke-width="1.0" stroke-linejoin="round"/>
<polygon points="420.40,712.30 417.70,716.70 423.10,716.70" fill="#111"/>
<text x="295.70" y="778.70" font-size="9.2" font-weight="bold" text-anchor="end" transform="rotate(-45 295.70 778.70) translate(295.70 778.70) scale(1 1.13) translate(-295.70 -778.70)">lean</text>
<text x="322.60" y="778.70" font-size="9.2" font-weight="bold" text-anchor="end" transform="rotate(-45 322.60 778.70) translate(322.60 778.70) scale(1 1.13) translate(-322.60 -778.70)">obese</text>
<text x="349.50" y="778.70" font-size="9.2" font-weight="bold" text-anchor="end" transform="rotate(-45 349.50 778.70) translate(349.50 778.70) scale(1 1.13) translate(-349.50 -778.70)">obese +Cap</text>
<text x="376.40" y="778.70" font-size="9.2" font-weight="bold" text-anchor="end" transform="rotate(-45 376.40 778.70) translate(376.40 778.70) scale(1 1.13) translate(-376.40 -778.70)">WT</text>
<text x="403.30" y="778.70" font-size="9.2" font-weight="bold" text-anchor="end" transform="rotate(-45 403.30 778.70) translate(403.30 778.70) scale(1 1.13) translate(-403.30 -778.70)">db/db ND</text>
<text x="430.20" y="778.70" font-size="9.2" font-weight="bold" text-anchor="end" transform="rotate(-45 430.20 778.70) translate(430.20 778.70) scale(1 1.13) translate(-430.20 -778.70)">db/db NC</text>
<line x1="509.50" y1="683.40" x2="509.50" y2="689.40" stroke="#505050" stroke-width="1.1"/>
<line x1="504.40" y1="683.40" x2="514.60" y2="683.40" stroke="#555" stroke-width="1.45"/>
<rect x="500.00" y="689.90" width="19.00" height="80.40" fill="#fff" stroke="#333" stroke-width="1.0" rx="0" />
<line x1="529.55" y1="721.10" x2="529.55" y2="726.30" stroke="#505050" stroke-width="1.1"/>
<line x1="524.45" y1="721.10" x2="534.65" y2="721.10" stroke="#555" stroke-width="1.45"/>
<rect x="520.40" y="726.80" width="18.30" height="43.50" fill="#a0a0a0" stroke="#333" stroke-width="1.0" rx="0" />
<line x1="550.00" y1="703.00" x2="550.00" y2="707.40" stroke="#505050" stroke-width="1.1"/>
<line x1="544.90" y1="703.00" x2="555.10" y2="703.00" stroke="#555" stroke-width="1.45"/>
<rect x="539.80" y="707.40" width="20.40" height="62.90" fill="#000" stroke="none" stroke-width="0" rx="0" />
<line x1="590.50" y1="705.30" x2="590.50" y2="710.20" stroke="#505050" stroke-width="1.1"/>
<line x1="585.40" y1="705.30" x2="595.60" y2="705.30" stroke="#555" stroke-width="1.45"/>
<rect x="580.90" y="710.70" width="19.20" height="59.60" fill="#fff" stroke="#333" stroke-width="1.0" rx="0" />
<line x1="610.85" y1="737.30" x2="610.85" y2="740.40" stroke="#505050" stroke-width="1.1"/>
<line x1="605.75" y1="737.30" x2="615.95" y2="737.30" stroke="#555" stroke-width="1.45"/>
<rect x="601.40" y="740.90" width="18.90" height="29.40" fill="#a0a0a0" stroke="#333" stroke-width="1.0" rx="0" />
<line x1="631.30" y1="717.20" x2="631.30" y2="721.10" stroke="#505050" stroke-width="1.1"/>
<line x1="626.20" y1="717.20" x2="636.40" y2="717.20" stroke="#555" stroke-width="1.45"/>
<rect x="621.10" y="721.10" width="20.40" height="49.20" fill="#000" stroke="none" stroke-width="0" rx="0" />
<line x1="489.20" y1="663.50" x2="489.20" y2="771.20" stroke="#000" stroke-width="1.7"/>
<line x1="485.00" y1="770.30" x2="489.20" y2="770.30" stroke="#000" stroke-width="1.4"/>
<text x="0" y="0" transform="translate(483.00 774.40) scale(1.0 1.13)" font-size="9.6" text-anchor="end" font-weight="bold" fill="#000" >0.0</text>
<line x1="485.00" y1="734.80" x2="489.20" y2="734.80" stroke="#000" stroke-width="1.4"/>
<text x="0" y="0" transform="translate(483.00 738.90) scale(1.0 1.13)" font-size="9.6" text-anchor="end" font-weight="bold" fill="#000" >0.5</text>
<line x1="485.00" y1="699.30" x2="489.20" y2="699.30" stroke="#000" stroke-width="1.4"/>
<text x="0" y="0" transform="translate(483.00 703.40) scale(1.0 1.13)" font-size="9.6" text-anchor="end" font-weight="bold" fill="#000" >1.0</text>
<line x1="485.00" y1="663.80" x2="489.20" y2="663.80" stroke="#000" stroke-width="1.4"/>
<text x="0" y="0" transform="translate(483.00 667.90) scale(1.0 1.13)" font-size="9.6" text-anchor="end" font-weight="bold" fill="#000" >1.5</text>
<line x1="488.35" y1="770.30" x2="651.50" y2="770.30" stroke="#000" stroke-width="1.7"/>
<text x="0" y="0" font-size="9.9" font-weight="bold" text-anchor="middle" transform="translate(463.80 717.80) rotate(-90) scale(1 1.12)">CaMK&#8545; /GAPDH</text>
<text x="0" y="0" transform="translate(532.60 671.80) scale(1.0 1.13)" font-size="9.6" text-anchor="middle" font-weight="bold" fill="#000" >Human</text>
<line x1="502.90" y1="674.30" x2="557.60" y2="674.30" stroke="#222" stroke-width="1.5"/>
<text x="0" y="0" transform="translate(613.70 672.40) scale(1.0 1.13)" font-size="9.6" text-anchor="middle" font-weight="bold" fill="#000" >M<tspan dx="1.3">ice</tspan></text>
<line x1="585.60" y1="674.10" x2="640.40" y2="674.10" stroke="#222" stroke-width="1.5"/>
<polygon points="529.30,713.45 530.03,715.40 532.11,715.49 530.48,716.78 531.03,718.79 529.30,717.64 527.57,718.79 528.12,716.78 526.49,715.49 528.57,715.40" fill="#111"/>
<text x="547.80" y="699.10" font-size="8.4" text-anchor="start" font-weight="bold" fill="#222" >#</text>
<polygon points="610.20,731.27 608.44,734.43 611.96,734.43" fill="none" stroke="#555" stroke-width="1.0" stroke-linejoin="round"/>
<polygon points="631.30,710.20 628.60,714.10 634.00,714.10" fill="#111"/>
<text x="509.30" y="777.70" font-size="9.2" font-weight="bold" text-anchor="end" transform="rotate(-45 509.30 777.70) translate(509.30 777.70) scale(1 1.13) translate(-509.30 -777.70)">lean</text>
<text x="536.00" y="777.70" font-size="9.2" font-weight="bold" text-anchor="end" transform="rotate(-45 536.00 777.70) translate(536.00 777.70) scale(1 1.13) translate(-536.00 -777.70)">obese</text>
<text x="562.70" y="777.70" font-size="9.2" font-weight="bold" text-anchor="end" transform="rotate(-45 562.70 777.70) translate(562.70 777.70) scale(1 1.13) translate(-562.70 -777.70)">obese +Cap</text>
<text x="589.40" y="777.70" font-size="9.2" font-weight="bold" text-anchor="end" transform="rotate(-45 589.40 777.70) translate(589.40 777.70) scale(1 1.13) translate(-589.40 -777.70)">WT</text>
<text x="616.10" y="777.70" font-size="9.2" font-weight="bold" text-anchor="end" transform="rotate(-45 616.10 777.70) translate(616.10 777.70) scale(1 1.13) translate(-616.10 -777.70)">db/db ND</text>
<text x="642.80" y="777.70" font-size="9.2" font-weight="bold" text-anchor="end" transform="rotate(-45 642.80 777.70) translate(642.80 777.70) scale(1 1.13) translate(-642.80 -777.70)">db/db NC</text>
<line x1="300.05" y1="871.20" x2="300.05" y2="878.10" stroke="#505050" stroke-width="1.1"/>
<line x1="294.95" y1="871.20" x2="305.15" y2="871.20" stroke="#555" stroke-width="1.45"/>
<rect x="290.30" y="878.60" width="19.50" height="65.10" fill="#fff" stroke="#333" stroke-width="1.0" rx="0" />
<line x1="320.25" y1="896.30" x2="320.25" y2="901.20" stroke="#505050" stroke-width="1.1"/>
<line x1="315.15" y1="896.30" x2="325.35" y2="896.30" stroke="#555" stroke-width="1.45"/>
<rect x="310.80" y="901.70" width="18.90" height="42.00" fill="#a0a0a0" stroke="#333" stroke-width="1.0" rx="0" />
<line x1="340.85" y1="883.20" x2="340.85" y2="888.00" stroke="#505050" stroke-width="1.1"/>
<line x1="335.75" y1="883.20" x2="345.95" y2="883.20" stroke="#555" stroke-width="1.45"/>
<rect x="330.60" y="888.00" width="20.50" height="55.70" fill="#000" stroke="none" stroke-width="0" rx="0" />
<line x1="381.35" y1="887.60" x2="381.35" y2="889.70" stroke="#505050" stroke-width="1.1"/>
<line x1="376.25" y1="887.60" x2="386.45" y2="887.60" stroke="#555" stroke-width="1.45"/>
<rect x="371.80" y="890.20" width="19.10" height="53.50" fill="#fff" stroke="#333" stroke-width="1.0" rx="0" />
<line x1="401.35" y1="910.10" x2="401.35" y2="916.20" stroke="#505050" stroke-width="1.1"/>
<line x1="396.25" y1="910.10" x2="406.45" y2="910.10" stroke="#555" stroke-width="1.45"/>
<rect x="391.90" y="916.70" width="18.90" height="27.00" fill="#a0a0a0" stroke="#333" stroke-width="1.0" rx="0" />
<line x1="421.70" y1="895.00" x2="421.70" y2="896.90" stroke="#505050" stroke-width="1.1"/>
<line x1="416.60" y1="895.00" x2="426.80" y2="895.00" stroke="#555" stroke-width="1.45"/>
<rect x="411.60" y="896.90" width="20.20" height="46.80" fill="#000" stroke="none" stroke-width="0" rx="0" />
<line x1="279.90" y1="836.90" x2="279.90" y2="944.60" stroke="#000" stroke-width="1.7"/>
<line x1="275.70" y1="943.70" x2="279.90" y2="943.70" stroke="#000" stroke-width="1.4"/>
<text x="0" y="0" transform="translate(273.70 947.80) scale(1.0 1.13)" font-size="9.6" text-anchor="end" font-weight="bold" fill="#000" >0.0</text>
<line x1="275.70" y1="908.20" x2="279.90" y2="908.20" stroke="#000" stroke-width="1.4"/>
<text x="0" y="0" transform="translate(273.70 912.30) scale(1.0 1.13)" font-size="9.6" text-anchor="end" font-weight="bold" fill="#000" >0.5</text>
<line x1="275.70" y1="872.70" x2="279.90" y2="872.70" stroke="#000" stroke-width="1.4"/>
<text x="0" y="0" transform="translate(273.70 876.80) scale(1.0 1.13)" font-size="9.6" text-anchor="end" font-weight="bold" fill="#000" >1.0</text>
<line x1="275.70" y1="837.20" x2="279.90" y2="837.20" stroke="#000" stroke-width="1.4"/>
<text x="0" y="0" transform="translate(273.70 841.30) scale(1.0 1.13)" font-size="9.6" text-anchor="end" font-weight="bold" fill="#000" >1.5</text>
<line x1="279.05" y1="943.70" x2="442.40" y2="943.70" stroke="#000" stroke-width="1.7"/>
<text x="0" y="0" font-size="9.4" font-weight="bold" text-anchor="middle" transform="translate(256.30 890.70) rotate(-90) scale(1 1.12)">PPAR&#948;/GAPDH</text>
<text x="0" y="0" transform="translate(320.40 844.30) scale(1.0 1.13)" font-size="9.6" text-anchor="middle" font-weight="bold" fill="#000" >Human</text>
<line x1="293.80" y1="846.40" x2="349.30" y2="846.40" stroke="#222" stroke-width="1.5"/>
<text x="0" y="0" transform="translate(405.50 844.10) scale(1.0 1.13)" font-size="9.6" text-anchor="middle" font-weight="bold" fill="#000" >M<tspan dx="1.3">ice</tspan></text>
<line x1="376.00" y1="846.30" x2="431.80" y2="846.30" stroke="#222" stroke-width="1.5"/>
<polygon points="320.20,888.25 320.93,890.20 323.01,890.29 321.38,891.58 321.93,893.59 320.20,892.44 318.47,893.59 319.02,891.58 317.39,890.29 319.47,890.20" fill="#111"/>
<text x="338.40" y="880.20" font-size="8.4" text-anchor="start" font-weight="bold" fill="#222" >#</text>
<polygon points="401.10,902.75 398.92,906.65 403.28,906.65" fill="none" stroke="#555" stroke-width="1.0" stroke-linejoin="round"/>
<polygon points="421.60,886.80 418.90,891.50 424.30,891.50" fill="#111"/>
<text x="299.00" y="951.80" font-size="9.2" font-weight="bold" text-anchor="end" transform="rotate(-45 299.00 951.80) translate(299.00 951.80) scale(1 1.13) translate(-299.00 -951.80)">lean</text>
<text x="325.74" y="951.80" font-size="9.2" font-weight="bold" text-anchor="end" transform="rotate(-45 325.74 951.80) translate(325.74 951.80) scale(1 1.13) translate(-325.74 -951.80)">obese</text>
<text x="352.48" y="951.80" font-size="9.2" font-weight="bold" text-anchor="end" transform="rotate(-45 352.48 951.80) translate(352.48 951.80) scale(1 1.13) translate(-352.48 -951.80)">obese +Cap</text>
<text x="379.22" y="951.80" font-size="9.2" font-weight="bold" text-anchor="end" transform="rotate(-45 379.22 951.80) translate(379.22 951.80) scale(1 1.13) translate(-379.22 -951.80)">WT</text>
<text x="405.96" y="951.80" font-size="9.2" font-weight="bold" text-anchor="end" transform="rotate(-45 405.96 951.80) translate(405.96 951.80) scale(1 1.13) translate(-405.96 -951.80)">db/db ND</text>
<text x="432.70" y="951.80" font-size="9.2" font-weight="bold" text-anchor="end" transform="rotate(-45 432.70 951.80) translate(432.70 951.80) scale(1 1.13) translate(-432.70 -951.80)">db/db NC</text>
<line x1="508.50" y1="877.30" x2="508.50" y2="884.20" stroke="#505050" stroke-width="1.1"/>
<line x1="503.40" y1="877.30" x2="513.60" y2="877.30" stroke="#555" stroke-width="1.45"/>
<rect x="498.80" y="884.70" width="19.40" height="61.80" fill="#fff" stroke="#333" stroke-width="1.0" rx="0" />
<line x1="528.50" y1="910.60" x2="528.50" y2="915.40" stroke="#505050" stroke-width="1.1"/>
<line x1="523.40" y1="910.60" x2="533.60" y2="910.60" stroke="#555" stroke-width="1.45"/>
<rect x="519.20" y="915.90" width="18.60" height="30.60" fill="#a0a0a0" stroke="#333" stroke-width="1.0" rx="0" />
<line x1="548.85" y1="885.50" x2="548.85" y2="890.50" stroke="#505050" stroke-width="1.1"/>
<line x1="543.75" y1="885.50" x2="553.95" y2="885.50" stroke="#555" stroke-width="1.45"/>
<rect x="538.70" y="890.50" width="20.30" height="56.00" fill="#000" stroke="none" stroke-width="0" rx="0" />
<line x1="589.60" y1="885.00" x2="589.60" y2="889.70" stroke="#505050" stroke-width="1.1"/>
<line x1="584.50" y1="885.00" x2="594.70" y2="885.00" stroke="#555" stroke-width="1.45"/>
<rect x="580.00" y="890.20" width="19.20" height="56.30" fill="#fff" stroke="#333" stroke-width="1.0" rx="0" />
<line x1="609.55" y1="918.70" x2="609.55" y2="923.60" stroke="#505050" stroke-width="1.1"/>
<line x1="604.45" y1="918.70" x2="614.65" y2="918.70" stroke="#555" stroke-width="1.45"/>
<rect x="600.20" y="924.10" width="18.70" height="22.40" fill="#a0a0a0" stroke="#333" stroke-width="1.0" rx="0" />
<line x1="629.80" y1="891.50" x2="629.80" y2="896.90" stroke="#505050" stroke-width="1.1"/>
<line x1="624.70" y1="891.50" x2="634.90" y2="891.50" stroke="#555" stroke-width="1.45"/>
<rect x="619.50" y="896.90" width="20.60" height="49.60" fill="#000" stroke="none" stroke-width="0" rx="0" />
<line x1="488.40" y1="839.70" x2="488.40" y2="947.40" stroke="#000" stroke-width="1.7"/>
<line x1="484.20" y1="946.50" x2="488.40" y2="946.50" stroke="#000" stroke-width="1.4"/>
<text x="0" y="0" transform="translate(482.20 950.60) scale(1.0 1.13)" font-size="9.6" text-anchor="end" font-weight="bold" fill="#000" >0.0</text>
<line x1="484.20" y1="911.00" x2="488.40" y2="911.00" stroke="#000" stroke-width="1.4"/>
<text x="0" y="0" transform="translate(482.20 915.10) scale(1.0 1.13)" font-size="9.6" text-anchor="end" font-weight="bold" fill="#000" >0.5</text>
<line x1="484.20" y1="875.50" x2="488.40" y2="875.50" stroke="#000" stroke-width="1.4"/>
<text x="0" y="0" transform="translate(482.20 879.60) scale(1.0 1.13)" font-size="9.6" text-anchor="end" font-weight="bold" fill="#000" >1.0</text>
<line x1="484.20" y1="840.00" x2="488.40" y2="840.00" stroke="#000" stroke-width="1.4"/>
<text x="0" y="0" transform="translate(482.20 844.10) scale(1.0 1.13)" font-size="9.6" text-anchor="end" font-weight="bold" fill="#000" >1.5</text>
<line x1="487.55" y1="946.50" x2="650.60" y2="946.50" stroke="#000" stroke-width="1.7"/>
<text x="0" y="0" font-size="9.4" font-weight="bold" text-anchor="middle" transform="translate(464.40 893.70) rotate(-90) scale(1 1.12)">HSL/GAPDH</text>
<text x="0" y="0" transform="translate(531.90 847.30) scale(1.0 1.13)" font-size="9.6" text-anchor="middle" font-weight="bold" fill="#000" >Human</text>
<line x1="504.90" y1="850.30" x2="559.70" y2="850.30" stroke="#222" stroke-width="1.5"/>
<text x="0" y="0" transform="translate(611.40 848.50) scale(1.0 1.13)" font-size="9.6" text-anchor="middle" font-weight="bold" fill="#000" >M<tspan dx="1.3">ice</tspan></text>
<line x1="582.10" y1="850.20" x2="636.90" y2="850.20" stroke="#222" stroke-width="1.5"/>
<polygon points="528.60,902.65 529.33,904.60 531.41,904.69 529.78,905.98 530.33,907.99 528.60,906.84 526.87,907.99 527.42,905.98 525.79,904.69 527.87,904.60" fill="#111"/>
<text x="546.50" y="882.20" font-size="8.4" text-anchor="start" font-weight="bold" fill="#222" >#</text>
<polygon points="609.30,911.47 607.54,914.62 611.06,914.62" fill="none" stroke="#555" stroke-width="1.0" stroke-linejoin="round"/>
<polygon points="629.90,884.10 627.20,888.10 632.60,888.10" fill="#111"/>
<text x="508.40" y="954.50" font-size="9.2" font-weight="bold" text-anchor="end" transform="rotate(-45 508.40 954.50) translate(508.40 954.50) scale(1 1.13) translate(-508.40 -954.50)">lean</text>
<text x="535.26" y="954.50" font-size="9.2" font-weight="bold" text-anchor="end" transform="rotate(-45 535.26 954.50) translate(535.26 954.50) scale(1 1.13) translate(-535.26 -954.50)">obese</text>
<text x="562.12" y="954.50" font-size="9.2" font-weight="bold" text-anchor="end" transform="rotate(-45 562.12 954.50) translate(562.12 954.50) scale(1 1.13) translate(-562.12 -954.50)">obese +Cap</text>
<text x="588.98" y="954.50" font-size="9.2" font-weight="bold" text-anchor="end" transform="rotate(-45 588.98 954.50) translate(588.98 954.50) scale(1 1.13) translate(-588.98 -954.50)">WT</text>
<text x="615.84" y="954.50" font-size="9.2" font-weight="bold" text-anchor="end" transform="rotate(-45 615.84 954.50) translate(615.84 954.50) scale(1 1.13) translate(-615.84 -954.50)">db/db ND</text>
<text x="642.70" y="954.50" font-size="9.2" font-weight="bold" text-anchor="end" transform="rotate(-45 642.70 954.50) translate(642.70 954.50) scale(1 1.13) translate(-642.70 -954.50)">db/db NC</text>
</g>
</svg>
</body></html>
